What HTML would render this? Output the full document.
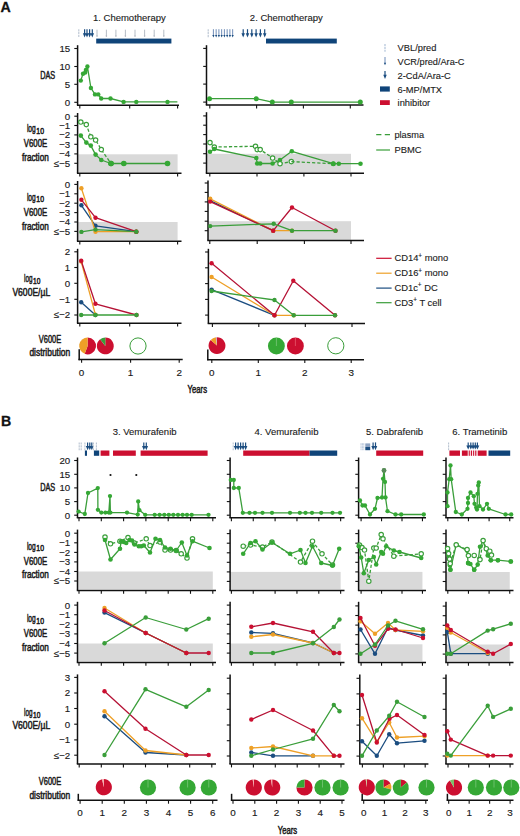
<!DOCTYPE html>
<html><head><meta charset="utf-8"><title>Figure</title>
<style>
html,body{margin:0;padding:0;background:#fff;}
body{width:520px;height:836px;overflow:hidden;font-family:"Liberation Sans",sans-serif;}
svg{display:block;}
</style></head><body>
<svg width="520" height="836" viewBox="0 0 520 836" font-family="Liberation Sans, sans-serif">
<rect width="520" height="836" fill="#fff"/>
<text x="0.4" y="12.3" font-size="14.2" font-weight="bold" fill="#111" stroke="#111" stroke-width="0.3">A</text>
<text x="129.4" y="21.4" font-size="9.5" text-anchor="middle" fill="#1a1a1a" stroke="#1a1a1a" stroke-width="0.12">1. Chemotherapy</text>
<text x="286.3" y="21.4" font-size="9.5" text-anchor="middle" fill="#1a1a1a" stroke="#1a1a1a" stroke-width="0.12">2. Chemotherapy</text>
<line x1="78.8" y1="29.2" x2="78.8" y2="36.9" stroke="#b9c4d2" stroke-width="1.1" stroke-dasharray="2.2,0.7"/>
<line x1="84.6" y1="29.2" x2="84.6" y2="35.4" stroke="#1b4d80" stroke-width="1.2" />
<path d="M82.85,33.2 L86.35,33.2 L84.6,37.4 Z" fill="#1b4d80"/>
<line x1="87" y1="29.2" x2="87" y2="35.4" stroke="#1b4d80" stroke-width="1.2" />
<path d="M85.25,33.2 L88.75,33.2 L87,37.4 Z" fill="#1b4d80"/>
<line x1="89.6" y1="29.2" x2="89.6" y2="35.4" stroke="#1b4d80" stroke-width="1.2" />
<path d="M87.85,33.2 L91.35,33.2 L89.6,37.4 Z" fill="#1b4d80"/>
<line x1="92.3" y1="29.2" x2="92.3" y2="35.4" stroke="#1b4d80" stroke-width="1.2" />
<path d="M90.55,33.2 L94.05,33.2 L92.3,37.4 Z" fill="#1b4d80"/>
<line x1="97" y1="29.7" x2="97" y2="36.9" stroke="#aeb6c0" stroke-width="0.9" />
<line x1="96.3" y1="35.8" x2="97.7" y2="35.8" stroke="#aeb6c0" stroke-width="0.8" />
<line x1="106.4" y1="29.7" x2="106.4" y2="36.9" stroke="#aeb6c0" stroke-width="0.9" />
<line x1="105.7" y1="35.8" x2="107.1" y2="35.8" stroke="#aeb6c0" stroke-width="0.8" />
<line x1="115.9" y1="29.7" x2="115.9" y2="36.9" stroke="#aeb6c0" stroke-width="0.9" />
<line x1="115.2" y1="35.8" x2="116.6" y2="35.8" stroke="#aeb6c0" stroke-width="0.8" />
<line x1="125.4" y1="29.7" x2="125.4" y2="36.9" stroke="#aeb6c0" stroke-width="0.9" />
<line x1="124.7" y1="35.8" x2="126.1" y2="35.8" stroke="#aeb6c0" stroke-width="0.8" />
<line x1="135" y1="29.7" x2="135" y2="36.9" stroke="#aeb6c0" stroke-width="0.9" />
<line x1="134.3" y1="35.8" x2="135.7" y2="35.8" stroke="#aeb6c0" stroke-width="0.8" />
<line x1="144.6" y1="29.7" x2="144.6" y2="36.9" stroke="#aeb6c0" stroke-width="0.9" />
<line x1="143.9" y1="35.8" x2="145.3" y2="35.8" stroke="#aeb6c0" stroke-width="0.8" />
<line x1="154.2" y1="29.7" x2="154.2" y2="36.9" stroke="#aeb6c0" stroke-width="0.9" />
<line x1="153.5" y1="35.8" x2="154.9" y2="35.8" stroke="#aeb6c0" stroke-width="0.8" />
<line x1="163.8" y1="29.7" x2="163.8" y2="36.9" stroke="#aeb6c0" stroke-width="0.9" />
<line x1="163.1" y1="35.8" x2="164.5" y2="35.8" stroke="#aeb6c0" stroke-width="0.8" />
<rect x="96.2" y="38.6" width="75.2" height="4.9" fill="#0f4479"/>
<line x1="208.2" y1="29.2" x2="208.2" y2="37.4" stroke="#b9c4d2" stroke-width="1.1" stroke-dasharray="2.2,0.7"/>
<line x1="213.4" y1="29.2" x2="213.4" y2="35.9" stroke="#5f80b0" stroke-width="0.9" />
<path d="M212.3,35 L214.5,35 L213.4,37.4 Z" fill="#1b4d80"/>
<line x1="216.15" y1="29.2" x2="216.15" y2="35.9" stroke="#5f80b0" stroke-width="0.9" />
<path d="M215.05,35 L217.25,35 L216.15,37.4 Z" fill="#1b4d80"/>
<line x1="218.9" y1="29.2" x2="218.9" y2="35.9" stroke="#5f80b0" stroke-width="0.9" />
<path d="M217.8,35 L220,35 L218.9,37.4 Z" fill="#1b4d80"/>
<line x1="221.65" y1="29.2" x2="221.65" y2="35.9" stroke="#5f80b0" stroke-width="0.9" />
<path d="M220.55,35 L222.75,35 L221.65,37.4 Z" fill="#1b4d80"/>
<line x1="224.4" y1="29.2" x2="224.4" y2="35.9" stroke="#5f80b0" stroke-width="0.9" />
<path d="M223.3,35 L225.5,35 L224.4,37.4 Z" fill="#1b4d80"/>
<line x1="227.15" y1="29.2" x2="227.15" y2="35.9" stroke="#5f80b0" stroke-width="0.9" />
<path d="M226.05,35 L228.25,35 L227.15,37.4 Z" fill="#1b4d80"/>
<line x1="229.9" y1="29.2" x2="229.9" y2="35.9" stroke="#5f80b0" stroke-width="0.9" />
<path d="M228.8,35 L231,35 L229.9,37.4 Z" fill="#1b4d80"/>
<line x1="232.65" y1="29.2" x2="232.65" y2="35.9" stroke="#5f80b0" stroke-width="0.9" />
<path d="M231.55,35 L233.75,35 L232.65,37.4 Z" fill="#1b4d80"/>
<line x1="243.2" y1="29.2" x2="243.2" y2="35.4" stroke="#1b4d80" stroke-width="1.2" />
<path d="M241.45,33.2 L244.95,33.2 L243.2,37.4 Z" fill="#1b4d80"/>
<line x1="247.5" y1="29.2" x2="247.5" y2="35.4" stroke="#1b4d80" stroke-width="1.2" />
<path d="M245.75,33.2 L249.25,33.2 L247.5,37.4 Z" fill="#1b4d80"/>
<line x1="251.8" y1="29.2" x2="251.8" y2="35.4" stroke="#1b4d80" stroke-width="1.2" />
<path d="M250.05,33.2 L253.55,33.2 L251.8,37.4 Z" fill="#1b4d80"/>
<line x1="256.1" y1="29.2" x2="256.1" y2="35.4" stroke="#1b4d80" stroke-width="1.2" />
<path d="M254.35,33.2 L257.85,33.2 L256.1,37.4 Z" fill="#1b4d80"/>
<line x1="260.4" y1="29.2" x2="260.4" y2="35.4" stroke="#1b4d80" stroke-width="1.2" />
<path d="M258.65,33.2 L262.15,33.2 L260.4,37.4 Z" fill="#1b4d80"/>
<line x1="264.7" y1="29.2" x2="264.7" y2="35.4" stroke="#1b4d80" stroke-width="1.2" />
<path d="M262.95,33.2 L266.45,33.2 L264.7,37.4 Z" fill="#1b4d80"/>
<rect x="266" y="38.6" width="70.8" height="4.9" fill="#0f4479"/>
<text x="40.2" y="78.8" font-size="10.6" textLength="15" lengthAdjust="spacingAndGlyphs" fill="#1a1a1a" stroke="#1a1a1a" stroke-width="0.5">DAS</text>
<text x="26.9" y="132" font-size="10.6" textLength="8.89" lengthAdjust="spacingAndGlyphs" fill="#1a1a1a" stroke="#1a1a1a" stroke-width="0.5">log</text>
<text x="36.29" y="133.6" font-size="8.48" textLength="7.71" lengthAdjust="spacingAndGlyphs" fill="#1a1a1a" stroke="#1a1a1a" stroke-width="0.5">10</text>
<text x="23.8" y="146.9" font-size="10.6" textLength="23.5" lengthAdjust="spacingAndGlyphs" fill="#1a1a1a" stroke="#1a1a1a" stroke-width="0.5">V600E</text>
<text x="21.9" y="160.9" font-size="10.6" textLength="26.9" lengthAdjust="spacingAndGlyphs" fill="#1a1a1a" stroke="#1a1a1a" stroke-width="0.5">fraction</text>
<text x="26.9" y="200.6" font-size="10.6" textLength="8.89" lengthAdjust="spacingAndGlyphs" fill="#1a1a1a" stroke="#1a1a1a" stroke-width="0.5">log</text>
<text x="36.29" y="202.2" font-size="8.48" textLength="7.71" lengthAdjust="spacingAndGlyphs" fill="#1a1a1a" stroke="#1a1a1a" stroke-width="0.5">10</text>
<text x="23.8" y="215.5" font-size="10.6" textLength="23.5" lengthAdjust="spacingAndGlyphs" fill="#1a1a1a" stroke="#1a1a1a" stroke-width="0.5">V600E</text>
<text x="21.9" y="229.5" font-size="10.6" textLength="26.9" lengthAdjust="spacingAndGlyphs" fill="#1a1a1a" stroke="#1a1a1a" stroke-width="0.5">fraction</text>
<text x="24" y="282.2" font-size="10.6" textLength="8.53" lengthAdjust="spacingAndGlyphs" fill="#1a1a1a" stroke="#1a1a1a" stroke-width="0.5">log</text>
<text x="33.03" y="283.8" font-size="8.48" textLength="7.37" lengthAdjust="spacingAndGlyphs" fill="#1a1a1a" stroke="#1a1a1a" stroke-width="0.5">10</text>
<text x="12.4" y="296.4" font-size="10.6" textLength="37.8" lengthAdjust="spacingAndGlyphs" fill="#1a1a1a" stroke="#1a1a1a" stroke-width="0.5">V600E/µL</text>
<text x="38.8" y="342.7" font-size="10.6" textLength="22.4" lengthAdjust="spacingAndGlyphs" fill="#1a1a1a" stroke="#1a1a1a" stroke-width="0.5">V600E</text>
<text x="29.4" y="356.2" font-size="10.6" textLength="40.8" lengthAdjust="spacingAndGlyphs" fill="#1a1a1a" stroke="#1a1a1a" stroke-width="0.5">distribution</text>
<line x1="77.6" y1="45.2" x2="77.6" y2="105.2" stroke="#111" stroke-width="1.5" />
<line x1="74.3" y1="48.5" x2="77.6" y2="48.5" stroke="#111" stroke-width="1.1" />
<text x="70.2" y="51.9" font-size="9.7" text-anchor="end" fill="#1a1a1a" stroke="#1a1a1a" stroke-width="0.15">15</text>
<line x1="74.3" y1="66.5" x2="77.6" y2="66.5" stroke="#111" stroke-width="1.1" />
<text x="70.2" y="69.9" font-size="9.7" text-anchor="end" fill="#1a1a1a" stroke="#1a1a1a" stroke-width="0.15">10</text>
<line x1="74.3" y1="84.3" x2="77.6" y2="84.3" stroke="#111" stroke-width="1.1" />
<text x="70.2" y="87.7" font-size="9.7" text-anchor="end" fill="#1a1a1a" stroke="#1a1a1a" stroke-width="0.15">5</text>
<line x1="74.3" y1="102.3" x2="77.6" y2="102.3" stroke="#111" stroke-width="1.1" />
<text x="70.2" y="105.7" font-size="9.7" text-anchor="end" fill="#1a1a1a" stroke="#1a1a1a" stroke-width="0.15">0</text>
<line x1="76.9" y1="105.2" x2="179" y2="105.2" stroke="#111" stroke-width="1.5" />
<line x1="79.8" y1="105.2" x2="79.8" y2="108.6" stroke="#111" stroke-width="1.1" />
<line x1="129.7" y1="105.2" x2="129.7" y2="108.6" stroke="#111" stroke-width="1.1" />
<line x1="177.6" y1="105.2" x2="177.6" y2="108.6" stroke="#111" stroke-width="1.1" />
<line x1="206.5" y1="45.2" x2="206.5" y2="105.1" stroke="#111" stroke-width="1.5" />
<line x1="203.2" y1="48.4" x2="206.5" y2="48.4" stroke="#111" stroke-width="1.1" />
<line x1="203.2" y1="66.4" x2="206.5" y2="66.4" stroke="#111" stroke-width="1.1" />
<line x1="203.2" y1="84.1" x2="206.5" y2="84.1" stroke="#111" stroke-width="1.1" />
<line x1="203.2" y1="102.1" x2="206.5" y2="102.1" stroke="#111" stroke-width="1.1" />
<line x1="205.8" y1="105.1" x2="363.5" y2="105.1" stroke="#111" stroke-width="1.5" />
<line x1="209.8" y1="105.1" x2="209.8" y2="108.5" stroke="#111" stroke-width="1.1" />
<line x1="256.6" y1="105.1" x2="256.6" y2="108.5" stroke="#111" stroke-width="1.1" />
<line x1="303.4" y1="105.1" x2="303.4" y2="108.5" stroke="#111" stroke-width="1.1" />
<line x1="350.3" y1="105.1" x2="350.3" y2="108.5" stroke="#111" stroke-width="1.1" />
<polyline points="80.8,80.6 83,73.8 85.2,72.6 85.9,70 87.4,66.5 90.9,88 95,94.4 98.3,94.4 101.2,98.5 110.5,98.5 123.6,101.9 136.3,101.9 167.5,101.9 177.4,101.9" fill="none" stroke="#3a9e3a" stroke-width="1.3" stroke-linejoin="round"/>
<circle cx="80.8" cy="80.6" r="2.2" fill="#35a835"/>
<circle cx="83" cy="73.8" r="2.2" fill="#35a835"/>
<circle cx="85.2" cy="72.6" r="2.2" fill="#35a835"/>
<circle cx="85.9" cy="70" r="2.2" fill="#35a835"/>
<circle cx="87.4" cy="66.5" r="2.2" fill="#35a835"/>
<circle cx="90.9" cy="88" r="2.2" fill="#35a835"/>
<circle cx="95" cy="94.4" r="2.2" fill="#35a835"/>
<circle cx="98.3" cy="94.4" r="2.2" fill="#35a835"/>
<circle cx="101.2" cy="98.5" r="2.2" fill="#35a835"/>
<circle cx="110.5" cy="98.5" r="2.2" fill="#35a835"/>
<circle cx="123.6" cy="101.9" r="2.2" fill="#35a835"/>
<circle cx="136.3" cy="101.9" r="2.2" fill="#35a835"/>
<circle cx="167.5" cy="101.9" r="2.2" fill="#35a835"/>
<polyline points="209.5,98.7 256.2,98.7 272.3,102.1 291.3,102.1 360.3,102.1" fill="none" stroke="#3a9e3a" stroke-width="1.3" stroke-linejoin="round"/>
<circle cx="209.5" cy="98.7" r="2.5" fill="#35a835"/>
<circle cx="256.2" cy="98.7" r="2.5" fill="#35a835"/>
<circle cx="272.3" cy="102.1" r="2.5" fill="#35a835"/>
<circle cx="291.3" cy="102.1" r="2.5" fill="#35a835"/>
<circle cx="360.3" cy="102.1" r="2.5" fill="#35a835"/>
<rect x="77.6" y="154.3" width="100" height="17.9" fill="#d9d9d9"/>
<rect x="206.5" y="153.8" width="144.5" height="18.4" fill="#d9d9d9"/>
<line x1="77.6" y1="113" x2="77.6" y2="173.2" stroke="#111" stroke-width="1.5" />
<line x1="74.3" y1="116.2" x2="77.6" y2="116.2" stroke="#111" stroke-width="1.1" />
<text x="70.2" y="119.6" font-size="9.7" text-anchor="end" fill="#1a1a1a" stroke="#1a1a1a" stroke-width="0.15">0</text>
<line x1="74.3" y1="125.5" x2="77.6" y2="125.5" stroke="#111" stroke-width="1.1" />
<text x="70.2" y="128.9" font-size="9.7" text-anchor="end" fill="#1a1a1a" stroke="#1a1a1a" stroke-width="0.15">−1</text>
<line x1="74.3" y1="134.9" x2="77.6" y2="134.9" stroke="#111" stroke-width="1.1" />
<text x="70.2" y="138.3" font-size="9.7" text-anchor="end" fill="#1a1a1a" stroke="#1a1a1a" stroke-width="0.15">−2</text>
<line x1="74.3" y1="144.3" x2="77.6" y2="144.3" stroke="#111" stroke-width="1.1" />
<text x="70.2" y="147.7" font-size="9.7" text-anchor="end" fill="#1a1a1a" stroke="#1a1a1a" stroke-width="0.15">−3</text>
<line x1="74.3" y1="153.9" x2="77.6" y2="153.9" stroke="#111" stroke-width="1.1" />
<text x="70.2" y="157.3" font-size="9.7" text-anchor="end" fill="#1a1a1a" stroke="#1a1a1a" stroke-width="0.15">−4</text>
<line x1="74.3" y1="163.3" x2="77.6" y2="163.3" stroke="#111" stroke-width="1.1" />
<text x="70.2" y="166.7" font-size="9.7" text-anchor="end" fill="#1a1a1a" stroke="#1a1a1a" stroke-width="0.15">≤−5</text>
<line x1="76.9" y1="173.2" x2="181.5" y2="173.2" stroke="#111" stroke-width="1.5" />
<line x1="79.8" y1="173.2" x2="79.8" y2="176.6" stroke="#111" stroke-width="1.1" />
<line x1="129.7" y1="173.2" x2="129.7" y2="176.6" stroke="#111" stroke-width="1.1" />
<line x1="177.6" y1="173.2" x2="177.6" y2="176.6" stroke="#111" stroke-width="1.1" />
<line x1="206.5" y1="112.2" x2="206.5" y2="173.2" stroke="#111" stroke-width="1.5" />
<line x1="203.2" y1="115.9" x2="206.5" y2="115.9" stroke="#111" stroke-width="1.1" />
<line x1="203.2" y1="125.2" x2="206.5" y2="125.2" stroke="#111" stroke-width="1.1" />
<line x1="203.2" y1="134.6" x2="206.5" y2="134.6" stroke="#111" stroke-width="1.1" />
<line x1="203.2" y1="144" x2="206.5" y2="144" stroke="#111" stroke-width="1.1" />
<line x1="203.2" y1="153.7" x2="206.5" y2="153.7" stroke="#111" stroke-width="1.1" />
<line x1="203.2" y1="163.1" x2="206.5" y2="163.1" stroke="#111" stroke-width="1.1" />
<line x1="205.8" y1="173.2" x2="364" y2="173.2" stroke="#111" stroke-width="1.5" />
<line x1="209.8" y1="173.2" x2="209.8" y2="176.6" stroke="#111" stroke-width="1.1" />
<line x1="257" y1="173.2" x2="257" y2="176.6" stroke="#111" stroke-width="1.1" />
<line x1="303.9" y1="173.2" x2="303.9" y2="176.6" stroke="#111" stroke-width="1.1" />
<line x1="351" y1="173.2" x2="351" y2="176.6" stroke="#111" stroke-width="1.1" />
<polyline points="80.8,122 86.3,124.6 90.8,136.8 95.6,140 101.3,149.6 111,163.5" fill="none" stroke="#3a9e3a" stroke-width="1.3" stroke-linejoin="round" stroke-dasharray="3.2,2"/>
<circle cx="80.8" cy="122" r="2.2" fill="#fff" stroke="#3a9e3a" stroke-width="1.15"/>
<circle cx="86.3" cy="124.6" r="2.2" fill="#fff" stroke="#3a9e3a" stroke-width="1.15"/>
<circle cx="90.8" cy="136.8" r="2.2" fill="#fff" stroke="#3a9e3a" stroke-width="1.15"/>
<circle cx="95.6" cy="140" r="2.2" fill="#fff" stroke="#3a9e3a" stroke-width="1.15"/>
<circle cx="101.3" cy="149.6" r="2.2" fill="#fff" stroke="#3a9e3a" stroke-width="1.15"/>
<circle cx="111" cy="163.5" r="2.2" fill="#fff" stroke="#3a9e3a" stroke-width="1.15"/>
<polyline points="80.8,135.6 86.3,142.6 90.8,145.6 95.6,154.6 101.3,160 111,163.5 123.8,163.5 167.5,163.5" fill="none" stroke="#3a9e3a" stroke-width="1.3" stroke-linejoin="round"/>
<circle cx="80.8" cy="135.6" r="2.3" fill="#35a835"/>
<circle cx="86.3" cy="142.6" r="2.3" fill="#35a835"/>
<circle cx="90.8" cy="145.6" r="2.3" fill="#35a835"/>
<circle cx="95.6" cy="154.6" r="2.3" fill="#35a835"/>
<circle cx="101.3" cy="160" r="2.3" fill="#35a835"/>
<circle cx="111" cy="163.5" r="2.3" fill="#35a835"/>
<circle cx="123.8" cy="163.5" r="2.3" fill="#35a835"/>
<circle cx="167.5" cy="163.5" r="2.3" fill="#35a835"/>
<circle cx="111" cy="163.5" r="2.8" fill="#35a835"/>
<circle cx="123.8" cy="163.5" r="2.8" fill="#35a835"/>
<circle cx="167.5" cy="163.5" r="2.8" fill="#35a835"/>
<polyline points="210,142.6 214.3,147 255.5,146.3 257.2,149.6 260.2,149.6 272.6,158 280,163.7 291.3,161.6" fill="none" stroke="#3a9e3a" stroke-width="1.3" stroke-linejoin="round" stroke-dasharray="3.2,2"/>
<circle cx="210" cy="142.6" r="2.2" fill="#fff" stroke="#3a9e3a" stroke-width="1.15"/>
<circle cx="214.3" cy="147" r="2.2" fill="#fff" stroke="#3a9e3a" stroke-width="1.15"/>
<circle cx="255.5" cy="146.3" r="2.2" fill="#fff" stroke="#3a9e3a" stroke-width="1.15"/>
<circle cx="257.2" cy="149.6" r="2.2" fill="#fff" stroke="#3a9e3a" stroke-width="1.15"/>
<circle cx="260.2" cy="149.6" r="2.2" fill="#fff" stroke="#3a9e3a" stroke-width="1.15"/>
<circle cx="272.6" cy="158" r="2.2" fill="#fff" stroke="#3a9e3a" stroke-width="1.15"/>
<circle cx="280" cy="163.7" r="2.2" fill="#fff" stroke="#3a9e3a" stroke-width="1.15"/>
<circle cx="291.3" cy="161.6" r="2.2" fill="#fff" stroke="#3a9e3a" stroke-width="1.15"/>
<polyline points="210,151.8 214.3,149 256.3,158 257.2,163.5 260.2,163.5 272.6,163.5 280,160 291.8,151.3 333.3,163.7 338.8,163.7 360.5,163.7" fill="none" stroke="#3a9e3a" stroke-width="1.3" stroke-linejoin="round"/>
<circle cx="210" cy="151.8" r="2.3" fill="#35a835"/>
<circle cx="214.3" cy="149" r="2.3" fill="#35a835"/>
<circle cx="256.3" cy="158" r="2.3" fill="#35a835"/>
<circle cx="257.2" cy="163.5" r="2.3" fill="#35a835"/>
<circle cx="260.2" cy="163.5" r="2.3" fill="#35a835"/>
<circle cx="272.6" cy="163.5" r="2.3" fill="#35a835"/>
<circle cx="280" cy="160" r="2.3" fill="#35a835"/>
<circle cx="291.8" cy="151.3" r="2.3" fill="#35a835"/>
<circle cx="333.3" cy="163.7" r="2.3" fill="#35a835"/>
<circle cx="338.8" cy="163.7" r="2.3" fill="#35a835"/>
<circle cx="360.5" cy="163.7" r="2.3" fill="#35a835"/>
<polyline points="291.3,161.6 333.3,163.7" fill="none" stroke="#3a9e3a" stroke-width="1.3" stroke-linejoin="round" stroke-dasharray="3.2,2"/>
<circle cx="333.3" cy="163.7" r="2.5" fill="#35a835"/>
<rect x="77.6" y="222" width="100" height="18.3" fill="#d9d9d9"/>
<rect x="208" y="221.2" width="143" height="18.6" fill="#d9d9d9"/>
<line x1="77.6" y1="181" x2="77.6" y2="241.2" stroke="#111" stroke-width="1.5" />
<line x1="74.3" y1="184.4" x2="77.6" y2="184.4" stroke="#111" stroke-width="1.1" />
<text x="70.2" y="187.8" font-size="9.7" text-anchor="end" fill="#1a1a1a" stroke="#1a1a1a" stroke-width="0.15">0</text>
<line x1="74.3" y1="193.8" x2="77.6" y2="193.8" stroke="#111" stroke-width="1.1" />
<text x="70.2" y="197.2" font-size="9.7" text-anchor="end" fill="#1a1a1a" stroke="#1a1a1a" stroke-width="0.15">−1</text>
<line x1="74.3" y1="203.2" x2="77.6" y2="203.2" stroke="#111" stroke-width="1.1" />
<text x="70.2" y="206.6" font-size="9.7" text-anchor="end" fill="#1a1a1a" stroke="#1a1a1a" stroke-width="0.15">−2</text>
<line x1="74.3" y1="212.6" x2="77.6" y2="212.6" stroke="#111" stroke-width="1.1" />
<text x="70.2" y="216" font-size="9.7" text-anchor="end" fill="#1a1a1a" stroke="#1a1a1a" stroke-width="0.15">−3</text>
<line x1="74.3" y1="222" x2="77.6" y2="222" stroke="#111" stroke-width="1.1" />
<text x="70.2" y="225.4" font-size="9.7" text-anchor="end" fill="#1a1a1a" stroke="#1a1a1a" stroke-width="0.15">−4</text>
<line x1="74.3" y1="231.4" x2="77.6" y2="231.4" stroke="#111" stroke-width="1.1" />
<text x="70.2" y="234.8" font-size="9.7" text-anchor="end" fill="#1a1a1a" stroke="#1a1a1a" stroke-width="0.15">≤−5</text>
<line x1="76.9" y1="241.2" x2="181.5" y2="241.2" stroke="#111" stroke-width="1.5" />
<line x1="79.8" y1="241.2" x2="79.8" y2="244.6" stroke="#111" stroke-width="1.1" />
<line x1="129.7" y1="241.2" x2="129.7" y2="244.6" stroke="#111" stroke-width="1.1" />
<line x1="177.6" y1="241.2" x2="177.6" y2="244.6" stroke="#111" stroke-width="1.1" />
<line x1="208" y1="180.5" x2="208" y2="240.6" stroke="#111" stroke-width="1.5" />
<line x1="204.7" y1="183" x2="208" y2="183" stroke="#111" stroke-width="1.1" />
<line x1="204.7" y1="192.4" x2="208" y2="192.4" stroke="#111" stroke-width="1.1" />
<line x1="204.7" y1="201.9" x2="208" y2="201.9" stroke="#111" stroke-width="1.1" />
<line x1="204.7" y1="211.4" x2="208" y2="211.4" stroke="#111" stroke-width="1.1" />
<line x1="204.7" y1="221.2" x2="208" y2="221.2" stroke="#111" stroke-width="1.1" />
<line x1="204.7" y1="230.7" x2="208" y2="230.7" stroke="#111" stroke-width="1.1" />
<line x1="207.3" y1="240.6" x2="364" y2="240.6" stroke="#111" stroke-width="1.5" />
<line x1="209.8" y1="240.6" x2="209.8" y2="244" stroke="#111" stroke-width="1.1" />
<line x1="257.2" y1="240.6" x2="257.2" y2="244" stroke="#111" stroke-width="1.1" />
<line x1="304.4" y1="240.6" x2="304.4" y2="244" stroke="#111" stroke-width="1.1" />
<line x1="351" y1="240.6" x2="351" y2="244" stroke="#111" stroke-width="1.1" />
<polyline points="81.4,205.3 95.5,225.8 136.3,231.7" fill="none" stroke="#1b4d80" stroke-width="1.3" stroke-linejoin="round"/>
<circle cx="81.4" cy="205.3" r="2.2" fill="#1b4d80"/>
<circle cx="95.5" cy="225.8" r="2.2" fill="#1b4d80"/>
<circle cx="136.3" cy="231.7" r="2.2" fill="#1b4d80"/>
<polyline points="81.4,188.3 95.5,231.7 136.3,231.7" fill="none" stroke="#eea027" stroke-width="1.3" stroke-linejoin="round"/>
<circle cx="81.4" cy="188.3" r="2.2" fill="#eea027"/>
<circle cx="95.5" cy="231.7" r="2.2" fill="#eea027"/>
<circle cx="136.3" cy="231.7" r="2.2" fill="#eea027"/>
<polyline points="81.4,199.8 95.5,217.7 136.3,231.7" fill="none" stroke="#b51235" stroke-width="1.3" stroke-linejoin="round"/>
<circle cx="81.4" cy="199.8" r="2.2" fill="#cc0f30"/>
<circle cx="95.5" cy="217.7" r="2.2" fill="#cc0f30"/>
<circle cx="136.3" cy="231.7" r="2.2" fill="#cc0f30"/>
<polyline points="81.4,231.9 95.5,229.6 136.3,231.7" fill="none" stroke="#3a9e3a" stroke-width="1.3" stroke-linejoin="round"/>
<circle cx="81.4" cy="231.9" r="2.2" fill="#3a9e3a"/>
<circle cx="95.5" cy="229.6" r="2.2" fill="#3a9e3a"/>
<circle cx="136.3" cy="231.7" r="2.2" fill="#3a9e3a"/>
<polyline points="210.2,200.6 273.2,230.7" fill="none" stroke="#1b4d80" stroke-width="1.3" stroke-linejoin="round"/>
<circle cx="210.2" cy="200.6" r="2.2" fill="#1b4d80"/>
<circle cx="273.2" cy="230.7" r="2.2" fill="#1b4d80"/>
<polyline points="210.2,198.8 273.2,230.7 292,230.7" fill="none" stroke="#eea027" stroke-width="1.3" stroke-linejoin="round"/>
<circle cx="210.2" cy="198.8" r="2.2" fill="#eea027"/>
<circle cx="273.2" cy="230.7" r="2.2" fill="#eea027"/>
<circle cx="292" cy="230.7" r="2.2" fill="#eea027"/>
<polyline points="210.2,201.6 273.2,230.7 292,207.5 335.5,230.7" fill="none" stroke="#b51235" stroke-width="1.3" stroke-linejoin="round"/>
<circle cx="210.2" cy="201.6" r="2.2" fill="#cc0f30"/>
<circle cx="273.2" cy="230.7" r="2.2" fill="#cc0f30"/>
<circle cx="292" cy="207.5" r="2.2" fill="#cc0f30"/>
<circle cx="335.5" cy="230.7" r="2.2" fill="#cc0f30"/>
<polyline points="210.2,226.1 273.7,223.8 292,230.7 335.5,230.7" fill="none" stroke="#3a9e3a" stroke-width="1.3" stroke-linejoin="round"/>
<circle cx="210.2" cy="226.1" r="2.2" fill="#3a9e3a"/>
<circle cx="273.7" cy="223.8" r="2.2" fill="#3a9e3a"/>
<circle cx="292" cy="230.7" r="2.2" fill="#3a9e3a"/>
<circle cx="335.5" cy="230.7" r="2.2" fill="#3a9e3a"/>
<line x1="77.6" y1="248.8" x2="77.6" y2="323.2" stroke="#111" stroke-width="1.5" />
<line x1="74.3" y1="251.8" x2="77.6" y2="251.8" stroke="#111" stroke-width="1.1" />
<text x="70.2" y="255.2" font-size="9.7" text-anchor="end" fill="#1a1a1a" stroke="#1a1a1a" stroke-width="0.15">2</text>
<line x1="74.3" y1="267.5" x2="77.6" y2="267.5" stroke="#111" stroke-width="1.1" />
<text x="70.2" y="270.9" font-size="9.7" text-anchor="end" fill="#1a1a1a" stroke="#1a1a1a" stroke-width="0.15">1</text>
<line x1="74.3" y1="283.3" x2="77.6" y2="283.3" stroke="#111" stroke-width="1.1" />
<text x="70.2" y="286.7" font-size="9.7" text-anchor="end" fill="#1a1a1a" stroke="#1a1a1a" stroke-width="0.15">0</text>
<line x1="74.3" y1="299.3" x2="77.6" y2="299.3" stroke="#111" stroke-width="1.1" />
<text x="70.2" y="302.7" font-size="9.7" text-anchor="end" fill="#1a1a1a" stroke="#1a1a1a" stroke-width="0.15">−1</text>
<line x1="74.3" y1="315" x2="77.6" y2="315" stroke="#111" stroke-width="1.1" />
<text x="70.2" y="318.4" font-size="9.7" text-anchor="end" fill="#1a1a1a" stroke="#1a1a1a" stroke-width="0.15">≤−2</text>
<line x1="76.9" y1="323.2" x2="181.5" y2="323.2" stroke="#111" stroke-width="1.5" />
<line x1="79.8" y1="323.2" x2="79.8" y2="326.6" stroke="#111" stroke-width="1.1" />
<line x1="129.7" y1="323.2" x2="129.7" y2="326.6" stroke="#111" stroke-width="1.1" />
<line x1="177.6" y1="323.2" x2="177.6" y2="326.6" stroke="#111" stroke-width="1.1" />
<line x1="208.4" y1="248.8" x2="208.4" y2="323.6" stroke="#111" stroke-width="1.5" />
<line x1="205.1" y1="252" x2="208.4" y2="252" stroke="#111" stroke-width="1.1" />
<line x1="205.1" y1="267.8" x2="208.4" y2="267.8" stroke="#111" stroke-width="1.1" />
<line x1="205.1" y1="283.6" x2="208.4" y2="283.6" stroke="#111" stroke-width="1.1" />
<line x1="205.1" y1="299.4" x2="208.4" y2="299.4" stroke="#111" stroke-width="1.1" />
<line x1="205.1" y1="315.1" x2="208.4" y2="315.1" stroke="#111" stroke-width="1.1" />
<line x1="207.7" y1="323.6" x2="365" y2="323.6" stroke="#111" stroke-width="1.5" />
<line x1="212.4" y1="323.6" x2="212.4" y2="327" stroke="#111" stroke-width="1.1" />
<line x1="258.8" y1="323.6" x2="258.8" y2="327" stroke="#111" stroke-width="1.1" />
<line x1="305.3" y1="323.6" x2="305.3" y2="327" stroke="#111" stroke-width="1.1" />
<line x1="352" y1="323.6" x2="352" y2="327" stroke="#111" stroke-width="1.1" />
<polyline points="81.2,302.2 95.4,315" fill="none" stroke="#1b4d80" stroke-width="1.3" stroke-linejoin="round"/>
<circle cx="81.2" cy="302.2" r="2.2" fill="#1b4d80"/>
<circle cx="95.4" cy="315" r="2.2" fill="#1b4d80"/>
<polyline points="81.2,261.6 95.4,314.6" fill="none" stroke="#eea027" stroke-width="1.3" stroke-linejoin="round"/>
<circle cx="81.2" cy="261.6" r="2.2" fill="#eea027"/>
<circle cx="95.4" cy="314.6" r="2.2" fill="#eea027"/>
<polyline points="81.2,260.8 95.4,303.8 136.5,315" fill="none" stroke="#b51235" stroke-width="1.3" stroke-linejoin="round"/>
<circle cx="81.2" cy="260.8" r="2.2" fill="#cc0f30"/>
<circle cx="95.4" cy="303.8" r="2.2" fill="#cc0f30"/>
<circle cx="136.5" cy="315" r="2.2" fill="#cc0f30"/>
<polyline points="81.2,315 95.4,315 136.5,315" fill="none" stroke="#3a9e3a" stroke-width="1.3" stroke-linejoin="round"/>
<circle cx="81.2" cy="315" r="2.2" fill="#3a9e3a"/>
<circle cx="95.4" cy="315" r="2.2" fill="#3a9e3a"/>
<circle cx="136.5" cy="315" r="2.2" fill="#3a9e3a"/>
<polyline points="211.6,289.6 274.5,315.3" fill="none" stroke="#1b4d80" stroke-width="1.3" stroke-linejoin="round"/>
<circle cx="211.6" cy="289.6" r="2.2" fill="#1b4d80"/>
<circle cx="274.5" cy="315.3" r="2.2" fill="#1b4d80"/>
<polyline points="211.6,277 274.5,315.3 293.7,315.3" fill="none" stroke="#eea027" stroke-width="1.3" stroke-linejoin="round"/>
<circle cx="211.6" cy="277" r="2.2" fill="#eea027"/>
<circle cx="274.5" cy="315.3" r="2.2" fill="#eea027"/>
<circle cx="293.7" cy="315.3" r="2.2" fill="#eea027"/>
<polyline points="211.6,263.3 274.5,315.3 293.3,280.8 335,315.3" fill="none" stroke="#b51235" stroke-width="1.3" stroke-linejoin="round"/>
<circle cx="211.6" cy="263.3" r="2.2" fill="#cc0f30"/>
<circle cx="274.5" cy="315.3" r="2.2" fill="#cc0f30"/>
<circle cx="293.3" cy="280.8" r="2.2" fill="#cc0f30"/>
<circle cx="335" cy="315.3" r="2.2" fill="#cc0f30"/>
<polyline points="211.6,291 274.5,300 293.7,315.3 335,315.3" fill="none" stroke="#3a9e3a" stroke-width="1.3" stroke-linejoin="round"/>
<circle cx="211.6" cy="291" r="2.2" fill="#3a9e3a"/>
<circle cx="274.5" cy="300" r="2.2" fill="#3a9e3a"/>
<circle cx="293.7" cy="315.3" r="2.2" fill="#3a9e3a"/>
<circle cx="335" cy="315.3" r="2.2" fill="#3a9e3a"/>
<line x1="79.2" y1="349.2" x2="79.2" y2="360.2" stroke="#111" stroke-width="1.5" />
<line x1="78.5" y1="359.6" x2="182.7" y2="359.6" stroke="#111" stroke-width="1.5" />
<line x1="81.6" y1="359.6" x2="81.6" y2="362.8" stroke="#111" stroke-width="1.1" />
<text x="81.6" y="376.4" font-size="9.9" text-anchor="middle" fill="#1a1a1a" stroke="#1a1a1a" stroke-width="0.15">0</text>
<line x1="130.6" y1="359.6" x2="130.6" y2="362.8" stroke="#111" stroke-width="1.1" />
<text x="130.6" y="376.4" font-size="9.9" text-anchor="middle" fill="#1a1a1a" stroke="#1a1a1a" stroke-width="0.15">1</text>
<line x1="179.2" y1="359.6" x2="179.2" y2="362.8" stroke="#111" stroke-width="1.1" />
<text x="179.2" y="376.4" font-size="9.9" text-anchor="middle" fill="#1a1a1a" stroke="#1a1a1a" stroke-width="0.15">2</text>
<line x1="207.8" y1="349.6" x2="207.8" y2="360.2" stroke="#111" stroke-width="1.5" />
<line x1="207.1" y1="359.7" x2="364" y2="359.7" stroke="#111" stroke-width="1.5" />
<line x1="211.8" y1="359.7" x2="211.8" y2="362.9" stroke="#111" stroke-width="1.1" />
<text x="211.8" y="376.4" font-size="9.9" text-anchor="middle" fill="#1a1a1a" stroke="#1a1a1a" stroke-width="0.15">0</text>
<line x1="258.3" y1="359.7" x2="258.3" y2="362.9" stroke="#111" stroke-width="1.1" />
<text x="258.3" y="376.4" font-size="9.9" text-anchor="middle" fill="#1a1a1a" stroke="#1a1a1a" stroke-width="0.15">1</text>
<line x1="304.8" y1="359.7" x2="304.8" y2="362.9" stroke="#111" stroke-width="1.1" />
<text x="304.8" y="376.4" font-size="9.9" text-anchor="middle" fill="#1a1a1a" stroke="#1a1a1a" stroke-width="0.15">2</text>
<line x1="351.2" y1="359.7" x2="351.2" y2="362.9" stroke="#111" stroke-width="1.1" />
<text x="351.2" y="376.4" font-size="9.9" text-anchor="middle" fill="#1a1a1a" stroke="#1a1a1a" stroke-width="0.15">3</text>
<path d="M87.6,345.9 L87.6,337.45 A8.45,8.45 0 1 1 84.71,353.84 Z" fill="#cc0f30"/>
<path d="M87.6,345.9 L84.71,353.84 A8.45,8.45 0 0 1 87.6,337.45 Z" fill="#eea027"/>
<path d="M105.3,345.9 L105.3,337.45 A8.45,8.45 0 1 1 100.1,339.24 Z" fill="#cc0f30"/>
<path d="M105.3,345.9 L100.1,339.24 A8.45,8.45 0 0 1 105.3,337.45 Z" fill="#3a9e3a"/>
<circle cx="138" cy="346" r="8.1" fill="#fff" stroke="#3a9e3a" stroke-width="1.0"/>
<path d="M217,345.6 L217,337.15 A8.45,8.45 0 1 1 210.72,339.95 Z" fill="#cc0f30"/>
<path d="M217,345.6 L210.72,339.95 A8.45,8.45 0 0 1 215.82,337.23 Z" fill="#eea027"/>
<path d="M217,345.6 L215.82,337.23 A8.45,8.45 0 0 1 217,337.15 Z" fill="#c9a0c0"/>
<circle cx="276.4" cy="346" r="8.45" fill="#35a835"/>
<line x1="276.4" y1="346" x2="276.4" y2="337.6" stroke="#8fd08f" stroke-width="0.6" />
<circle cx="295.4" cy="346" r="8.45" fill="#cc0f30"/>
<line x1="295.4" y1="346" x2="295.4" y2="337.6" stroke="#f07080" stroke-width="0.6" />
<circle cx="335.8" cy="345.8" r="8.1" fill="#fff" stroke="#3a9e3a" stroke-width="1.0"/>
<text x="187.6" y="392.6" font-size="10.6" textLength="19.4" lengthAdjust="spacingAndGlyphs" fill="#1a1a1a" stroke="#1a1a1a" stroke-width="0.5">Years</text>
<line x1="385" y1="44" x2="385" y2="51.8" stroke="#a9bdd6" stroke-width="1.1" stroke-dasharray="2.2,0.7"/>
<text x="397.6" y="51.4" font-size="9.3" text-anchor="start" fill="#1a1a1a" stroke="#1a1a1a" stroke-width="0.12">VBL/pred</text>
<line x1="385" y1="57" x2="385" y2="63.7" stroke="#5f80b0" stroke-width="0.9" />
<path d="M383.9,62.8 L386.1,62.8 L385,65.2 Z" fill="#1b4d80"/>
<text x="397.6" y="65.3" font-size="9.2" text-anchor="start" fill="#1a1a1a" stroke="#1a1a1a" stroke-width="0.12">VCR/pred/Ara-C</text>
<line x1="385" y1="70.9" x2="385" y2="77" stroke="#1b4d80" stroke-width="1.2" />
<path d="M383.25,74.8 L386.75,74.8 L385,79 Z" fill="#1b4d80"/>
<text x="397.6" y="79.1" font-size="9.3" text-anchor="start" fill="#1a1a1a" stroke="#1a1a1a" stroke-width="0.12">2-CdA/Ara-C</text>
<rect x="380" y="86.4" width="9.8" height="5.2" fill="#0f4479"/>
<text x="397.6" y="92.5" font-size="9.3" text-anchor="start" fill="#1a1a1a" stroke="#1a1a1a" stroke-width="0.12">6-MP/MTX</text>
<rect x="380" y="100.2" width="9.8" height="4.8" fill="#cc0f30"/>
<text x="397.6" y="106" font-size="9.3" text-anchor="start" fill="#1a1a1a" stroke="#1a1a1a" stroke-width="0.12">inhibitor</text>
<line x1="376.2" y1="134.6" x2="390" y2="134.6" stroke="#3a9e3a" stroke-width="1.2" stroke-dasharray="5.2,3.4"/>
<text x="394.4" y="137.9" font-size="9.2" text-anchor="start" fill="#1a1a1a" stroke="#1a1a1a" stroke-width="0.12">plasma</text>
<line x1="376.2" y1="150" x2="390" y2="150" stroke="#3a9e3a" stroke-width="1.2" />
<text x="394.4" y="153.4" font-size="9.4" text-anchor="start" fill="#1a1a1a" stroke="#1a1a1a" stroke-width="0.12">PBMC</text>
<line x1="376.2" y1="258.3" x2="391.6" y2="258.3" stroke="#cc0f30" stroke-width="1.2" />
<text x="394.4" y="261.2" font-size="9.4" text-anchor="start" fill="#1a1a1a" stroke="#1a1a1a" stroke-width="0.12">CD14<tspan dy='-3.6' font-size='6.5'>+</tspan><tspan dy='3.6'> mono</tspan></text>
<line x1="376.2" y1="273.2" x2="391.6" y2="273.2" stroke="#eea027" stroke-width="1.2" />
<text x="394.4" y="276.1" font-size="9.4" text-anchor="start" fill="#1a1a1a" stroke="#1a1a1a" stroke-width="0.12">CD16<tspan dy='-3.6' font-size='6.5'>+</tspan><tspan dy='3.6'> mono</tspan></text>
<line x1="376.2" y1="288.1" x2="391.6" y2="288.1" stroke="#1b4d80" stroke-width="1.2" />
<text x="394.4" y="291" font-size="9.4" text-anchor="start" fill="#1a1a1a" stroke="#1a1a1a" stroke-width="0.12">CD1c<tspan dy='-3.6' font-size='6.5'>+</tspan><tspan dy='3.6'> DC</tspan></text>
<line x1="376.2" y1="302.7" x2="391.6" y2="302.7" stroke="#3a9e3a" stroke-width="1.2" />
<text x="394.4" y="305.6" font-size="9.4" text-anchor="start" fill="#1a1a1a" stroke="#1a1a1a" stroke-width="0.12">CD3<tspan dy='-3.6' font-size='6.5'>+</tspan><tspan dy='3.6'> T cell</tspan></text>
<text x="1.0" y="425.7" font-size="14.2" font-weight="bold" fill="#111" stroke="#111" stroke-width="0.3">B</text>
<text x="144.6" y="434.8" font-size="9.5" text-anchor="middle" fill="#1a1a1a" stroke="#1a1a1a" stroke-width="0.12">3. Vemurafenib</text>
<text x="286.5" y="434.8" font-size="9.5" text-anchor="middle" fill="#1a1a1a" stroke="#1a1a1a" stroke-width="0.12">4. Vemurafenib</text>
<text x="394.6" y="434.8" font-size="9.5" text-anchor="middle" fill="#1a1a1a" stroke="#1a1a1a" stroke-width="0.12">5. Dabrafenib</text>
<text x="479.8" y="434.8" font-size="9.5" text-anchor="middle" fill="#1a1a1a" stroke="#1a1a1a" stroke-width="0.12">6. Trametinib</text>
<line x1="79.2" y1="442.4" x2="79.2" y2="450.2" stroke="#b9c4d2" stroke-width="1.1" stroke-dasharray="2.2,0.7"/>
<line x1="81.2" y1="442.4" x2="81.2" y2="450.2" stroke="#b9c4d2" stroke-width="1.1" stroke-dasharray="2.2,0.7"/>
<line x1="84.9" y1="442.4" x2="84.9" y2="450.2" stroke="#b9c4d2" stroke-width="1.1" stroke-dasharray="2.2,0.7"/>
<line x1="87.6" y1="442.4" x2="87.6" y2="448.2" stroke="#1b4d80" stroke-width="1.2" />
<path d="M85.85,446 L89.35,446 L87.6,450.2 Z" fill="#1b4d80"/>
<line x1="89.8" y1="442.4" x2="89.8" y2="448.2" stroke="#1b4d80" stroke-width="1.2" />
<path d="M88.05,446 L91.55,446 L89.8,450.2 Z" fill="#1b4d80"/>
<line x1="91.8" y1="442.4" x2="91.8" y2="448.2" stroke="#1b4d80" stroke-width="1.2" />
<path d="M90.05,446 L93.55,446 L91.8,450.2 Z" fill="#1b4d80"/>
<line x1="93.4" y1="442.4" x2="93.4" y2="450.2" stroke="#b9c4d2" stroke-width="1.1" stroke-dasharray="2.2,0.7"/>
<line x1="96.4" y1="442.4" x2="96.4" y2="450.2" stroke="#b9c4d2" stroke-width="1.1" stroke-dasharray="2.2,0.7"/>
<line x1="143.8" y1="442.4" x2="143.8" y2="448.2" stroke="#1b4d80" stroke-width="1.2" />
<path d="M142.05,446 L145.55,446 L143.8,450.2 Z" fill="#1b4d80"/>
<line x1="146.3" y1="442.4" x2="146.3" y2="448.2" stroke="#1b4d80" stroke-width="1.2" />
<path d="M144.55,446 L148.05,446 L146.3,450.2 Z" fill="#1b4d80"/>
<rect x="84.9" y="450.5" width="2.1" height="5.3" fill="#0f4479"/>
<rect x="93.9" y="450.5" width="5.3" height="5.3" fill="#0f4479"/>
<rect x="100.6" y="450.5" width="8.8" height="5.3" fill="#cc0f30"/>
<rect x="113" y="450.5" width="22.8" height="5.3" fill="#cc0f30"/>
<rect x="140.6" y="450.5" width="67" height="5.3" fill="#cc0f30"/>
<line x1="233.2" y1="442.4" x2="233.2" y2="450.2" stroke="#b9c4d2" stroke-width="1.1" stroke-dasharray="2.2,0.7"/>
<line x1="235.6" y1="442.4" x2="235.6" y2="448.2" stroke="#1b4d80" stroke-width="1.2" />
<path d="M233.85,446 L237.35,446 L235.6,450.2 Z" fill="#1b4d80"/>
<line x1="238.1" y1="442.4" x2="238.1" y2="448.2" stroke="#1b4d80" stroke-width="1.2" />
<path d="M236.35,446 L239.85,446 L238.1,450.2 Z" fill="#1b4d80"/>
<line x1="240.6" y1="442.4" x2="240.6" y2="448.2" stroke="#1b4d80" stroke-width="1.2" />
<path d="M238.85,446 L242.35,446 L240.6,450.2 Z" fill="#1b4d80"/>
<line x1="243.1" y1="442.4" x2="243.1" y2="448.2" stroke="#1b4d80" stroke-width="1.2" />
<path d="M241.35,446 L244.85,446 L243.1,450.2 Z" fill="#1b4d80"/>
<line x1="245.6" y1="442.4" x2="245.6" y2="448.2" stroke="#1b4d80" stroke-width="1.2" />
<path d="M243.85,446 L247.35,446 L245.6,450.2 Z" fill="#1b4d80"/>
<rect x="243.2" y="450.5" width="66.4" height="5.3" fill="#cc0f30"/>
<rect x="309.6" y="450.5" width="27.6" height="5.3" fill="#0f4479"/>
<line x1="361" y1="443.2" x2="361" y2="450.2" stroke="#a3b6d0" stroke-width="0.75" stroke-dasharray="2.4,0.6"/>
<line x1="362.4" y1="443.2" x2="362.4" y2="450.2" stroke="#a3b6d0" stroke-width="0.75" stroke-dasharray="2.4,0.6"/>
<line x1="363.8" y1="443.2" x2="363.8" y2="450.2" stroke="#a3b6d0" stroke-width="0.75" stroke-dasharray="2.4,0.6"/>
<rect x="365.3" y="443.4" width="4.9" height="3.6" fill="#8ea3c2"/>
<rect x="365.3" y="447" width="4.9" height="3.2" fill="#1b4d80"/>
<line x1="373.1" y1="442.4" x2="373.1" y2="448.2" stroke="#1b4d80" stroke-width="1.2" />
<path d="M371.35,446 L374.85,446 L373.1,450.2 Z" fill="#1b4d80"/>
<line x1="375.5" y1="442.4" x2="375.5" y2="448.2" stroke="#1b4d80" stroke-width="1.2" />
<path d="M373.75,446 L377.25,446 L375.5,450.2 Z" fill="#1b4d80"/>
<rect x="376.2" y="450.5" width="47" height="5.3" fill="#cc0f30"/>
<line x1="448.6" y1="442.4" x2="448.6" y2="450.2" stroke="#b9c4d2" stroke-width="1.1" stroke-dasharray="2.2,0.7"/>
<line x1="468.2" y1="442.4" x2="468.2" y2="447.6" stroke="#1b4d80" stroke-width="1.2" />
<path d="M466.3,445.4 L470.1,445.4 L468.2,449.6 Z" fill="#1b4d80"/>
<line x1="470.8" y1="442.4" x2="470.8" y2="447.6" stroke="#1b4d80" stroke-width="1.2" />
<path d="M468.9,445.4 L472.7,445.4 L470.8,449.6 Z" fill="#1b4d80"/>
<line x1="473.1" y1="442.4" x2="473.1" y2="447.6" stroke="#1b4d80" stroke-width="1.2" />
<path d="M471.2,445.4 L475,445.4 L473.1,449.6 Z" fill="#1b4d80"/>
<line x1="475.3" y1="442.4" x2="475.3" y2="447.6" stroke="#1b4d80" stroke-width="1.2" />
<path d="M473.4,445.4 L477.2,445.4 L475.3,449.6 Z" fill="#1b4d80"/>
<line x1="477.4" y1="442.4" x2="477.4" y2="447.6" stroke="#1b4d80" stroke-width="1.2" />
<path d="M475.5,445.4 L479.3,445.4 L477.4,449.6 Z" fill="#1b4d80"/>
<rect x="449.4" y="450.5" width="10.6" height="5.3" fill="#cc0f30"/>
<rect x="461.9" y="450.5" width="5.8" height="5.3" fill="#cc0f30"/>
<rect x="468.7" y="450.5" width="1.1" height="5.3" fill="#cc0f30"/>
<rect x="470.8" y="450.5" width="1.3" height="5.3" fill="#cc0f30"/>
<rect x="473.1" y="450.5" width="1.1" height="5.3" fill="#cc0f30"/>
<rect x="475.2" y="450.5" width="1.2" height="5.3" fill="#cc0f30"/>
<rect x="477.7" y="450.5" width="8.9" height="5.3" fill="#cc0f30"/>
<rect x="488.5" y="450.5" width="21.7" height="5.3" fill="#0f4479"/>
<text x="40.2" y="491.3" font-size="10.6" textLength="15" lengthAdjust="spacingAndGlyphs" fill="#1a1a1a" stroke="#1a1a1a" stroke-width="0.5">DAS</text>
<text x="26.9" y="549.8" font-size="10.6" textLength="8.89" lengthAdjust="spacingAndGlyphs" fill="#1a1a1a" stroke="#1a1a1a" stroke-width="0.5">log</text>
<text x="36.29" y="551.4" font-size="8.48" textLength="7.71" lengthAdjust="spacingAndGlyphs" fill="#1a1a1a" stroke="#1a1a1a" stroke-width="0.5">10</text>
<text x="23.8" y="564.5" font-size="10.6" textLength="23.5" lengthAdjust="spacingAndGlyphs" fill="#1a1a1a" stroke="#1a1a1a" stroke-width="0.5">V600E</text>
<text x="21.9" y="578.4" font-size="10.6" textLength="26.9" lengthAdjust="spacingAndGlyphs" fill="#1a1a1a" stroke="#1a1a1a" stroke-width="0.5">fraction</text>
<text x="26.9" y="622.1" font-size="10.6" textLength="8.89" lengthAdjust="spacingAndGlyphs" fill="#1a1a1a" stroke="#1a1a1a" stroke-width="0.5">log</text>
<text x="36.29" y="623.7" font-size="8.48" textLength="7.71" lengthAdjust="spacingAndGlyphs" fill="#1a1a1a" stroke="#1a1a1a" stroke-width="0.5">10</text>
<text x="23.8" y="636.9" font-size="10.6" textLength="23.5" lengthAdjust="spacingAndGlyphs" fill="#1a1a1a" stroke="#1a1a1a" stroke-width="0.5">V600E</text>
<text x="21.9" y="650.8" font-size="10.6" textLength="26.9" lengthAdjust="spacingAndGlyphs" fill="#1a1a1a" stroke="#1a1a1a" stroke-width="0.5">fraction</text>
<text x="24" y="716.2" font-size="10.6" textLength="8.53" lengthAdjust="spacingAndGlyphs" fill="#1a1a1a" stroke="#1a1a1a" stroke-width="0.5">log</text>
<text x="33.03" y="717.8" font-size="8.48" textLength="7.37" lengthAdjust="spacingAndGlyphs" fill="#1a1a1a" stroke="#1a1a1a" stroke-width="0.5">10</text>
<text x="12.4" y="728.9" font-size="10.6" textLength="37.8" lengthAdjust="spacingAndGlyphs" fill="#1a1a1a" stroke="#1a1a1a" stroke-width="0.5">V600E/µL</text>
<text x="38.8" y="784.5" font-size="10.6" textLength="22.4" lengthAdjust="spacingAndGlyphs" fill="#1a1a1a" stroke="#1a1a1a" stroke-width="0.5">V600E</text>
<text x="29.4" y="798.6" font-size="10.6" textLength="40.8" lengthAdjust="spacingAndGlyphs" fill="#1a1a1a" stroke="#1a1a1a" stroke-width="0.5">distribution</text>
<line x1="77.5" y1="457.5" x2="77.5" y2="517.8" stroke="#111" stroke-width="1.5" />
<line x1="74.2" y1="460.5" x2="77.5" y2="460.5" stroke="#111" stroke-width="1.1" />
<text x="70.2" y="463.9" font-size="9.7" text-anchor="end" fill="#1a1a1a" stroke="#1a1a1a" stroke-width="0.15">20</text>
<line x1="74.2" y1="474.3" x2="77.5" y2="474.3" stroke="#111" stroke-width="1.1" />
<text x="70.2" y="477.7" font-size="9.7" text-anchor="end" fill="#1a1a1a" stroke="#1a1a1a" stroke-width="0.15">15</text>
<line x1="74.2" y1="487.9" x2="77.5" y2="487.9" stroke="#111" stroke-width="1.1" />
<text x="70.2" y="491.3" font-size="9.7" text-anchor="end" fill="#1a1a1a" stroke="#1a1a1a" stroke-width="0.15">10</text>
<line x1="74.2" y1="501.6" x2="77.5" y2="501.6" stroke="#111" stroke-width="1.1" />
<text x="70.2" y="505" font-size="9.7" text-anchor="end" fill="#1a1a1a" stroke="#1a1a1a" stroke-width="0.15">5</text>
<line x1="74.2" y1="515.2" x2="77.5" y2="515.2" stroke="#111" stroke-width="1.1" />
<text x="70.2" y="518.6" font-size="9.7" text-anchor="end" fill="#1a1a1a" stroke="#1a1a1a" stroke-width="0.15">0</text>
<line x1="76.8" y1="517.8" x2="216" y2="517.8" stroke="#111" stroke-width="1.5" />
<line x1="79" y1="517.8" x2="79" y2="521.2" stroke="#111" stroke-width="1.1" />
<line x1="101.3" y1="517.8" x2="101.3" y2="521.2" stroke="#111" stroke-width="1.1" />
<line x1="123.6" y1="517.8" x2="123.6" y2="521.2" stroke="#111" stroke-width="1.1" />
<line x1="145.9" y1="517.8" x2="145.9" y2="521.2" stroke="#111" stroke-width="1.1" />
<line x1="168.2" y1="517.8" x2="168.2" y2="521.2" stroke="#111" stroke-width="1.1" />
<line x1="190.5" y1="517.8" x2="190.5" y2="521.2" stroke="#111" stroke-width="1.1" />
<line x1="212.8" y1="517.8" x2="212.8" y2="521.2" stroke="#111" stroke-width="1.1" />
<line x1="230.1" y1="457.5" x2="230.1" y2="517.8" stroke="#111" stroke-width="1.5" />
<line x1="226.8" y1="460.5" x2="230.1" y2="460.5" stroke="#111" stroke-width="1.1" />
<line x1="226.8" y1="474.3" x2="230.1" y2="474.3" stroke="#111" stroke-width="1.1" />
<line x1="226.8" y1="487.9" x2="230.1" y2="487.9" stroke="#111" stroke-width="1.1" />
<line x1="226.8" y1="501.6" x2="230.1" y2="501.6" stroke="#111" stroke-width="1.1" />
<line x1="226.8" y1="515.2" x2="230.1" y2="515.2" stroke="#111" stroke-width="1.1" />
<line x1="229.4" y1="517.8" x2="344.5" y2="517.8" stroke="#111" stroke-width="1.5" />
<line x1="231.4" y1="517.8" x2="231.4" y2="521.2" stroke="#111" stroke-width="1.1" />
<line x1="253.25" y1="517.8" x2="253.25" y2="521.2" stroke="#111" stroke-width="1.1" />
<line x1="275.1" y1="517.8" x2="275.1" y2="521.2" stroke="#111" stroke-width="1.1" />
<line x1="296.95" y1="517.8" x2="296.95" y2="521.2" stroke="#111" stroke-width="1.1" />
<line x1="318.8" y1="517.8" x2="318.8" y2="521.2" stroke="#111" stroke-width="1.1" />
<line x1="340.65" y1="517.8" x2="340.65" y2="521.2" stroke="#111" stroke-width="1.1" />
<line x1="358.6" y1="457.5" x2="358.6" y2="517.8" stroke="#111" stroke-width="1.5" />
<line x1="355.3" y1="460.5" x2="358.6" y2="460.5" stroke="#111" stroke-width="1.1" />
<line x1="355.3" y1="474.3" x2="358.6" y2="474.3" stroke="#111" stroke-width="1.1" />
<line x1="355.3" y1="487.9" x2="358.6" y2="487.9" stroke="#111" stroke-width="1.1" />
<line x1="355.3" y1="501.6" x2="358.6" y2="501.6" stroke="#111" stroke-width="1.1" />
<line x1="355.3" y1="515.2" x2="358.6" y2="515.2" stroke="#111" stroke-width="1.1" />
<line x1="357.9" y1="517.8" x2="426" y2="517.8" stroke="#111" stroke-width="1.5" />
<line x1="361.1" y1="517.8" x2="361.1" y2="521.2" stroke="#111" stroke-width="1.1" />
<line x1="381.55" y1="517.8" x2="381.55" y2="521.2" stroke="#111" stroke-width="1.1" />
<line x1="402" y1="517.8" x2="402" y2="521.2" stroke="#111" stroke-width="1.1" />
<line x1="422.45" y1="517.8" x2="422.45" y2="521.2" stroke="#111" stroke-width="1.1" />
<line x1="446" y1="457.5" x2="446" y2="517.8" stroke="#111" stroke-width="1.5" />
<line x1="442.7" y1="460.5" x2="446" y2="460.5" stroke="#111" stroke-width="1.1" />
<line x1="442.7" y1="474.3" x2="446" y2="474.3" stroke="#111" stroke-width="1.1" />
<line x1="442.7" y1="487.9" x2="446" y2="487.9" stroke="#111" stroke-width="1.1" />
<line x1="442.7" y1="501.6" x2="446" y2="501.6" stroke="#111" stroke-width="1.1" />
<line x1="442.7" y1="515.2" x2="446" y2="515.2" stroke="#111" stroke-width="1.1" />
<line x1="445.3" y1="517.8" x2="513.5" y2="517.8" stroke="#111" stroke-width="1.5" />
<line x1="447.8" y1="517.8" x2="447.8" y2="521.2" stroke="#111" stroke-width="1.1" />
<line x1="468.45" y1="517.8" x2="468.45" y2="521.2" stroke="#111" stroke-width="1.1" />
<line x1="489.1" y1="517.8" x2="489.1" y2="521.2" stroke="#111" stroke-width="1.1" />
<line x1="509.75" y1="517.8" x2="509.75" y2="521.2" stroke="#111" stroke-width="1.1" />
<circle cx="110.5" cy="475" r="1.1" fill="#111"/>
<circle cx="136.3" cy="475" r="1.1" fill="#111"/>
<polyline points="78.6,511.6 84.8,514 88,493 97.8,488.1 97.9,509.8 101.3,512.6 105.4,512.6 108.8,512.6 110,496.1 110.4,512.6 127,512.6 137.7,514.6 138.2,501.5 139.4,510.2 145.2,514.8 154.7,514.8 159.6,514.8 164.3,514.8 168.8,514.8 173.3,514.8 178,514.8 182.6,514.8 187,514.8 191.7,514.8 208.5,514.8" fill="none" stroke="#3a9e3a" stroke-width="1.3" stroke-linejoin="round"/>
<circle cx="78.6" cy="511.6" r="2.15" fill="#35a835"/>
<circle cx="84.8" cy="514" r="2.15" fill="#35a835"/>
<circle cx="88" cy="493" r="2.15" fill="#35a835"/>
<circle cx="97.8" cy="488.1" r="2.15" fill="#35a835"/>
<circle cx="97.9" cy="509.8" r="2.15" fill="#35a835"/>
<circle cx="101.3" cy="512.6" r="2.15" fill="#35a835"/>
<circle cx="105.4" cy="512.6" r="2.15" fill="#35a835"/>
<circle cx="108.8" cy="512.6" r="2.15" fill="#35a835"/>
<circle cx="110" cy="496.1" r="2.15" fill="#35a835"/>
<circle cx="110.4" cy="512.6" r="2.15" fill="#35a835"/>
<circle cx="127" cy="512.6" r="2.15" fill="#35a835"/>
<circle cx="137.7" cy="514.6" r="2.15" fill="#35a835"/>
<circle cx="138.2" cy="501.5" r="2.15" fill="#35a835"/>
<circle cx="139.4" cy="510.2" r="2.15" fill="#35a835"/>
<circle cx="145.2" cy="514.8" r="2.15" fill="#35a835"/>
<circle cx="154.7" cy="514.8" r="2.15" fill="#35a835"/>
<circle cx="159.6" cy="514.8" r="2.15" fill="#35a835"/>
<circle cx="164.3" cy="514.8" r="2.15" fill="#35a835"/>
<circle cx="168.8" cy="514.8" r="2.15" fill="#35a835"/>
<circle cx="173.3" cy="514.8" r="2.15" fill="#35a835"/>
<circle cx="178" cy="514.8" r="2.15" fill="#35a835"/>
<circle cx="182.6" cy="514.8" r="2.15" fill="#35a835"/>
<circle cx="187" cy="514.8" r="2.15" fill="#35a835"/>
<circle cx="191.7" cy="514.8" r="2.15" fill="#35a835"/>
<circle cx="208.5" cy="514.8" r="2.15" fill="#35a835"/>
<polyline points="230.8,480 233.8,480 233.8,488 238.8,488 242.8,512.8 249.5,512.8 255,512.8 262.5,512.8 272,512.8 290,512.8 299.8,512.8 305.5,512.8 312,512.8 321.2,512.8 332.5,512.8 340,512.8" fill="none" stroke="#3a9e3a" stroke-width="1.3" stroke-linejoin="round"/>
<circle cx="230.8" cy="480" r="2.15" fill="#35a835"/>
<circle cx="233.8" cy="480" r="2.15" fill="#35a835"/>
<circle cx="233.8" cy="488" r="2.15" fill="#35a835"/>
<circle cx="238.8" cy="488" r="2.15" fill="#35a835"/>
<circle cx="242.8" cy="512.8" r="2.15" fill="#35a835"/>
<circle cx="249.5" cy="512.8" r="2.15" fill="#35a835"/>
<circle cx="255" cy="512.8" r="2.15" fill="#35a835"/>
<circle cx="262.5" cy="512.8" r="2.15" fill="#35a835"/>
<circle cx="272" cy="512.8" r="2.15" fill="#35a835"/>
<circle cx="290" cy="512.8" r="2.15" fill="#35a835"/>
<circle cx="299.8" cy="512.8" r="2.15" fill="#35a835"/>
<circle cx="305.5" cy="512.8" r="2.15" fill="#35a835"/>
<circle cx="312" cy="512.8" r="2.15" fill="#35a835"/>
<circle cx="321.2" cy="512.8" r="2.15" fill="#35a835"/>
<circle cx="332.5" cy="512.8" r="2.15" fill="#35a835"/>
<circle cx="340" cy="512.8" r="2.15" fill="#35a835"/>
<polyline points="360,500.5 362.5,505.5 365,505.5 370,514.5 375,508.8 377.5,498 382,497.5 383,478.8 384,470.5 385,482 385.5,497.5 387.5,511.2 395.5,514.5 401.2,514.5 423.8,514.5" fill="none" stroke="#3a9e3a" stroke-width="1.3" stroke-linejoin="round"/>
<circle cx="360" cy="500.5" r="2.15" fill="#35a835"/>
<circle cx="362.5" cy="505.5" r="2.15" fill="#35a835"/>
<circle cx="365" cy="505.5" r="2.15" fill="#35a835"/>
<circle cx="370" cy="514.5" r="2.15" fill="#35a835"/>
<circle cx="375" cy="508.8" r="2.15" fill="#35a835"/>
<circle cx="377.5" cy="498" r="2.15" fill="#35a835"/>
<circle cx="382" cy="497.5" r="2.15" fill="#35a835"/>
<circle cx="383" cy="478.8" r="2.15" fill="#35a835"/>
<circle cx="384" cy="470.5" r="2.15" fill="#35a835"/>
<circle cx="385" cy="482" r="2.15" fill="#35a835"/>
<circle cx="385.5" cy="497.5" r="2.15" fill="#35a835"/>
<circle cx="387.5" cy="511.2" r="2.15" fill="#35a835"/>
<circle cx="395.5" cy="514.5" r="2.15" fill="#35a835"/>
<circle cx="401.2" cy="514.5" r="2.15" fill="#35a835"/>
<circle cx="423.8" cy="514.5" r="2.15" fill="#35a835"/>
<circle cx="384" cy="470.5" r="2.4" fill="#5a8a5a"/>
<polyline points="447.5,506.2 447.5,492.5 449.2,479.2 450.5,465.5 451.2,479.2 455.8,512 461.8,514.5 467.5,508.8 468,503 468,498 470.5,492.5 473.8,496.2 474.5,503.8 476.2,507.5 477,509.5 477.5,493.8 478.2,485.5 478.8,482.5 479.5,506.2 483,509.5 487,503.8 488.8,508.8 505.5,514.5 511.2,514.5" fill="none" stroke="#3a9e3a" stroke-width="1.3" stroke-linejoin="round"/>
<circle cx="447.5" cy="506.2" r="2.15" fill="#35a835"/>
<circle cx="447.5" cy="492.5" r="2.15" fill="#35a835"/>
<circle cx="449.2" cy="479.2" r="2.15" fill="#35a835"/>
<circle cx="450.5" cy="465.5" r="2.15" fill="#35a835"/>
<circle cx="451.2" cy="479.2" r="2.15" fill="#35a835"/>
<circle cx="455.8" cy="512" r="2.15" fill="#35a835"/>
<circle cx="461.8" cy="514.5" r="2.15" fill="#35a835"/>
<circle cx="467.5" cy="508.8" r="2.15" fill="#35a835"/>
<circle cx="468" cy="503" r="2.15" fill="#35a835"/>
<circle cx="468" cy="498" r="2.15" fill="#35a835"/>
<circle cx="470.5" cy="492.5" r="2.15" fill="#35a835"/>
<circle cx="473.8" cy="496.2" r="2.15" fill="#35a835"/>
<circle cx="474.5" cy="503.8" r="2.15" fill="#35a835"/>
<circle cx="476.2" cy="507.5" r="2.15" fill="#35a835"/>
<circle cx="477" cy="509.5" r="2.15" fill="#35a835"/>
<circle cx="477.5" cy="493.8" r="2.15" fill="#35a835"/>
<circle cx="478.2" cy="485.5" r="2.15" fill="#35a835"/>
<circle cx="478.8" cy="482.5" r="2.15" fill="#35a835"/>
<circle cx="479.5" cy="506.2" r="2.15" fill="#35a835"/>
<circle cx="483" cy="509.5" r="2.15" fill="#35a835"/>
<circle cx="487" cy="503.8" r="2.15" fill="#35a835"/>
<circle cx="488.8" cy="508.8" r="2.15" fill="#35a835"/>
<circle cx="505.5" cy="514.5" r="2.15" fill="#35a835"/>
<circle cx="511.2" cy="514.5" r="2.15" fill="#35a835"/>
<rect x="77.5" y="571.5" width="135.3" height="17.8" fill="#d9d9d9"/>
<line x1="77.5" y1="529.6" x2="77.5" y2="590.4" stroke="#111" stroke-width="1.5" />
<line x1="74.2" y1="533.2" x2="77.5" y2="533.2" stroke="#111" stroke-width="1.1" />
<text x="70.2" y="536.6" font-size="9.7" text-anchor="end" fill="#1a1a1a" stroke="#1a1a1a" stroke-width="0.15">0</text>
<line x1="74.2" y1="542.8" x2="77.5" y2="542.8" stroke="#111" stroke-width="1.1" />
<text x="70.2" y="546.2" font-size="9.7" text-anchor="end" fill="#1a1a1a" stroke="#1a1a1a" stroke-width="0.15">−1</text>
<line x1="74.2" y1="552.4" x2="77.5" y2="552.4" stroke="#111" stroke-width="1.1" />
<text x="70.2" y="555.8" font-size="9.7" text-anchor="end" fill="#1a1a1a" stroke="#1a1a1a" stroke-width="0.15">−2</text>
<line x1="74.2" y1="561.9" x2="77.5" y2="561.9" stroke="#111" stroke-width="1.1" />
<text x="70.2" y="565.3" font-size="9.7" text-anchor="end" fill="#1a1a1a" stroke="#1a1a1a" stroke-width="0.15">−3</text>
<line x1="74.2" y1="571.5" x2="77.5" y2="571.5" stroke="#111" stroke-width="1.1" />
<text x="70.2" y="574.9" font-size="9.7" text-anchor="end" fill="#1a1a1a" stroke="#1a1a1a" stroke-width="0.15">−4</text>
<line x1="74.2" y1="581" x2="77.5" y2="581" stroke="#111" stroke-width="1.1" />
<text x="70.2" y="584.4" font-size="9.7" text-anchor="end" fill="#1a1a1a" stroke="#1a1a1a" stroke-width="0.15">≤−5</text>
<line x1="76.8" y1="590.4" x2="216" y2="590.4" stroke="#111" stroke-width="1.5" />
<line x1="79" y1="590.4" x2="79" y2="593.8" stroke="#111" stroke-width="1.1" />
<line x1="101.3" y1="590.4" x2="101.3" y2="593.8" stroke="#111" stroke-width="1.1" />
<line x1="123.6" y1="590.4" x2="123.6" y2="593.8" stroke="#111" stroke-width="1.1" />
<line x1="145.9" y1="590.4" x2="145.9" y2="593.8" stroke="#111" stroke-width="1.1" />
<line x1="168.2" y1="590.4" x2="168.2" y2="593.8" stroke="#111" stroke-width="1.1" />
<line x1="190.5" y1="590.4" x2="190.5" y2="593.8" stroke="#111" stroke-width="1.1" />
<line x1="212.8" y1="590.4" x2="212.8" y2="593.8" stroke="#111" stroke-width="1.1" />
<rect x="230.1" y="571.9" width="110.55" height="17.4" fill="#d9d9d9"/>
<line x1="230.1" y1="529.6" x2="230.1" y2="590.4" stroke="#111" stroke-width="1.5" />
<line x1="226.8" y1="533.6" x2="230.1" y2="533.6" stroke="#111" stroke-width="1.1" />
<line x1="226.8" y1="543.2" x2="230.1" y2="543.2" stroke="#111" stroke-width="1.1" />
<line x1="226.8" y1="552.8" x2="230.1" y2="552.8" stroke="#111" stroke-width="1.1" />
<line x1="226.8" y1="562.3" x2="230.1" y2="562.3" stroke="#111" stroke-width="1.1" />
<line x1="226.8" y1="571.9" x2="230.1" y2="571.9" stroke="#111" stroke-width="1.1" />
<line x1="226.8" y1="581.4" x2="230.1" y2="581.4" stroke="#111" stroke-width="1.1" />
<line x1="229.4" y1="590.4" x2="344.5" y2="590.4" stroke="#111" stroke-width="1.5" />
<line x1="231.4" y1="590.4" x2="231.4" y2="593.8" stroke="#111" stroke-width="1.1" />
<line x1="253.25" y1="590.4" x2="253.25" y2="593.8" stroke="#111" stroke-width="1.1" />
<line x1="275.1" y1="590.4" x2="275.1" y2="593.8" stroke="#111" stroke-width="1.1" />
<line x1="296.95" y1="590.4" x2="296.95" y2="593.8" stroke="#111" stroke-width="1.1" />
<line x1="318.8" y1="590.4" x2="318.8" y2="593.8" stroke="#111" stroke-width="1.1" />
<line x1="340.65" y1="590.4" x2="340.65" y2="593.8" stroke="#111" stroke-width="1.1" />
<rect x="358.6" y="571.9" width="63.85" height="17.4" fill="#d9d9d9"/>
<line x1="358.6" y1="529.6" x2="358.6" y2="590.4" stroke="#111" stroke-width="1.5" />
<line x1="355.3" y1="533.6" x2="358.6" y2="533.6" stroke="#111" stroke-width="1.1" />
<line x1="355.3" y1="543.2" x2="358.6" y2="543.2" stroke="#111" stroke-width="1.1" />
<line x1="355.3" y1="552.8" x2="358.6" y2="552.8" stroke="#111" stroke-width="1.1" />
<line x1="355.3" y1="562.3" x2="358.6" y2="562.3" stroke="#111" stroke-width="1.1" />
<line x1="355.3" y1="571.9" x2="358.6" y2="571.9" stroke="#111" stroke-width="1.1" />
<line x1="355.3" y1="581.4" x2="358.6" y2="581.4" stroke="#111" stroke-width="1.1" />
<line x1="357.9" y1="590.4" x2="426" y2="590.4" stroke="#111" stroke-width="1.5" />
<line x1="361.1" y1="590.4" x2="361.1" y2="593.8" stroke="#111" stroke-width="1.1" />
<line x1="381.55" y1="590.4" x2="381.55" y2="593.8" stroke="#111" stroke-width="1.1" />
<line x1="402" y1="590.4" x2="402" y2="593.8" stroke="#111" stroke-width="1.1" />
<line x1="422.45" y1="590.4" x2="422.45" y2="593.8" stroke="#111" stroke-width="1.1" />
<rect x="446" y="572" width="63.75" height="17.3" fill="#d9d9d9"/>
<line x1="446" y1="529.6" x2="446" y2="590.4" stroke="#111" stroke-width="1.5" />
<line x1="442.7" y1="533.7" x2="446" y2="533.7" stroke="#111" stroke-width="1.1" />
<line x1="442.7" y1="543.3" x2="446" y2="543.3" stroke="#111" stroke-width="1.1" />
<line x1="442.7" y1="552.9" x2="446" y2="552.9" stroke="#111" stroke-width="1.1" />
<line x1="442.7" y1="562.4" x2="446" y2="562.4" stroke="#111" stroke-width="1.1" />
<line x1="442.7" y1="572" x2="446" y2="572" stroke="#111" stroke-width="1.1" />
<line x1="442.7" y1="581.5" x2="446" y2="581.5" stroke="#111" stroke-width="1.1" />
<line x1="445.3" y1="590.4" x2="513.5" y2="590.4" stroke="#111" stroke-width="1.5" />
<line x1="447.8" y1="590.4" x2="447.8" y2="593.8" stroke="#111" stroke-width="1.1" />
<line x1="468.45" y1="590.4" x2="468.45" y2="593.8" stroke="#111" stroke-width="1.1" />
<line x1="489.1" y1="590.4" x2="489.1" y2="593.8" stroke="#111" stroke-width="1.1" />
<line x1="509.75" y1="590.4" x2="509.75" y2="593.8" stroke="#111" stroke-width="1.1" />
<polyline points="105,537 110.5,543.8 120,541.2 128,537.5 134.5,543 146.2,538.8 150,545.5 160,542 165,550 170.5,550 176.2,550.5 181.2,553.8 187,558 192.5,538.8" fill="none" stroke="#3a9e3a" stroke-width="1.3" stroke-linejoin="round" stroke-dasharray="3.2,2"/>
<circle cx="105" cy="537" r="2.2" fill="#fff" stroke="#3a9e3a" stroke-width="1.15"/>
<circle cx="110.5" cy="543.8" r="2.2" fill="#fff" stroke="#3a9e3a" stroke-width="1.15"/>
<circle cx="120" cy="541.2" r="2.2" fill="#fff" stroke="#3a9e3a" stroke-width="1.15"/>
<circle cx="128" cy="537.5" r="2.2" fill="#fff" stroke="#3a9e3a" stroke-width="1.15"/>
<circle cx="134.5" cy="543" r="2.2" fill="#fff" stroke="#3a9e3a" stroke-width="1.15"/>
<circle cx="146.2" cy="538.8" r="2.2" fill="#fff" stroke="#3a9e3a" stroke-width="1.15"/>
<circle cx="150" cy="545.5" r="2.2" fill="#fff" stroke="#3a9e3a" stroke-width="1.15"/>
<circle cx="160" cy="542" r="2.2" fill="#fff" stroke="#3a9e3a" stroke-width="1.15"/>
<circle cx="165" cy="550" r="2.2" fill="#fff" stroke="#3a9e3a" stroke-width="1.15"/>
<circle cx="170.5" cy="550" r="2.2" fill="#fff" stroke="#3a9e3a" stroke-width="1.15"/>
<circle cx="176.2" cy="550.5" r="2.2" fill="#fff" stroke="#3a9e3a" stroke-width="1.15"/>
<circle cx="181.2" cy="553.8" r="2.2" fill="#fff" stroke="#3a9e3a" stroke-width="1.15"/>
<circle cx="187" cy="558" r="2.2" fill="#fff" stroke="#3a9e3a" stroke-width="1.15"/>
<circle cx="192.5" cy="538.8" r="2.2" fill="#fff" stroke="#3a9e3a" stroke-width="1.15"/>
<polyline points="105,540 110.5,559.5 120,548.8 121.2,541.2 123.8,542 126.2,543 129.5,540 132,540.5 134.5,544.5 138.8,546.2 141.2,546.2 143.8,545.5 150,552.5 155.5,538.8 160,540 165,547.5 170.5,548.8 176.2,550.5 181.8,542.5 187,555.5 192.5,541.2 209.5,548" fill="none" stroke="#3a9e3a" stroke-width="1.3" stroke-linejoin="round"/>
<circle cx="105" cy="540" r="2.3" fill="#35a835"/>
<circle cx="110.5" cy="559.5" r="2.3" fill="#35a835"/>
<circle cx="120" cy="548.8" r="2.3" fill="#35a835"/>
<circle cx="121.2" cy="541.2" r="2.3" fill="#35a835"/>
<circle cx="123.8" cy="542" r="2.3" fill="#35a835"/>
<circle cx="126.2" cy="543" r="2.3" fill="#35a835"/>
<circle cx="129.5" cy="540" r="2.3" fill="#35a835"/>
<circle cx="132" cy="540.5" r="2.3" fill="#35a835"/>
<circle cx="134.5" cy="544.5" r="2.3" fill="#35a835"/>
<circle cx="138.8" cy="546.2" r="2.3" fill="#35a835"/>
<circle cx="141.2" cy="546.2" r="2.3" fill="#35a835"/>
<circle cx="143.8" cy="545.5" r="2.3" fill="#35a835"/>
<circle cx="150" cy="552.5" r="2.3" fill="#35a835"/>
<circle cx="155.5" cy="538.8" r="2.3" fill="#35a835"/>
<circle cx="160" cy="540" r="2.3" fill="#35a835"/>
<circle cx="165" cy="547.5" r="2.3" fill="#35a835"/>
<circle cx="170.5" cy="548.8" r="2.3" fill="#35a835"/>
<circle cx="176.2" cy="550.5" r="2.3" fill="#35a835"/>
<circle cx="181.8" cy="542.5" r="2.3" fill="#35a835"/>
<circle cx="187" cy="555.5" r="2.3" fill="#35a835"/>
<circle cx="192.5" cy="541.2" r="2.3" fill="#35a835"/>
<circle cx="209.5" cy="548" r="2.3" fill="#35a835"/>
<polyline points="243.2,546.2 250.5,545 262.5,547 272,542 300.5,562 312.5,541.2 322,553.8 332.5,565" fill="none" stroke="#3a9e3a" stroke-width="1.3" stroke-linejoin="round" stroke-dasharray="3.2,2"/>
<circle cx="243.2" cy="546.2" r="2.2" fill="#fff" stroke="#3a9e3a" stroke-width="1.15"/>
<circle cx="250.5" cy="545" r="2.2" fill="#fff" stroke="#3a9e3a" stroke-width="1.15"/>
<circle cx="262.5" cy="547" r="2.2" fill="#fff" stroke="#3a9e3a" stroke-width="1.15"/>
<circle cx="272" cy="542" r="2.2" fill="#fff" stroke="#3a9e3a" stroke-width="1.15"/>
<circle cx="300.5" cy="562" r="2.2" fill="#fff" stroke="#3a9e3a" stroke-width="1.15"/>
<circle cx="312.5" cy="541.2" r="2.2" fill="#fff" stroke="#3a9e3a" stroke-width="1.15"/>
<circle cx="322" cy="553.8" r="2.2" fill="#fff" stroke="#3a9e3a" stroke-width="1.15"/>
<circle cx="332.5" cy="565" r="2.2" fill="#fff" stroke="#3a9e3a" stroke-width="1.15"/>
<polyline points="243.2,553.8 250.5,543 255.5,541.2 262.5,549.5 272,542.5 290,553.8 300.5,550 305.5,563 312.5,546.2 321.2,563 332.5,565.5 339.2,548.8" fill="none" stroke="#3a9e3a" stroke-width="1.3" stroke-linejoin="round"/>
<circle cx="243.2" cy="553.8" r="2.3" fill="#35a835"/>
<circle cx="250.5" cy="543" r="2.3" fill="#35a835"/>
<circle cx="255.5" cy="541.2" r="2.3" fill="#35a835"/>
<circle cx="262.5" cy="549.5" r="2.3" fill="#35a835"/>
<circle cx="272" cy="542.5" r="2.3" fill="#35a835"/>
<circle cx="290" cy="553.8" r="2.3" fill="#35a835"/>
<circle cx="300.5" cy="550" r="2.3" fill="#35a835"/>
<circle cx="305.5" cy="563" r="2.3" fill="#35a835"/>
<circle cx="312.5" cy="546.2" r="2.3" fill="#35a835"/>
<circle cx="321.2" cy="563" r="2.3" fill="#35a835"/>
<circle cx="332.5" cy="565.5" r="2.3" fill="#35a835"/>
<circle cx="339.2" cy="548.8" r="2.3" fill="#35a835"/>
<polyline points="359.5,545 362,547.5 364.5,550 368.8,581.2 373.8,548 376.2,548 381.2,534.5 383,538.8 393.8,556.2 421.2,553.8" fill="none" stroke="#3a9e3a" stroke-width="1.3" stroke-linejoin="round" stroke-dasharray="3.2,2"/>
<circle cx="359.5" cy="545" r="2.2" fill="#fff" stroke="#3a9e3a" stroke-width="1.15"/>
<circle cx="362" cy="547.5" r="2.2" fill="#fff" stroke="#3a9e3a" stroke-width="1.15"/>
<circle cx="364.5" cy="550" r="2.2" fill="#fff" stroke="#3a9e3a" stroke-width="1.15"/>
<circle cx="368.8" cy="581.2" r="2.2" fill="#fff" stroke="#3a9e3a" stroke-width="1.15"/>
<circle cx="373.8" cy="548" r="2.2" fill="#fff" stroke="#3a9e3a" stroke-width="1.15"/>
<circle cx="376.2" cy="548" r="2.2" fill="#fff" stroke="#3a9e3a" stroke-width="1.15"/>
<circle cx="381.2" cy="534.5" r="2.2" fill="#fff" stroke="#3a9e3a" stroke-width="1.15"/>
<circle cx="383" cy="538.8" r="2.2" fill="#fff" stroke="#3a9e3a" stroke-width="1.15"/>
<circle cx="393.8" cy="556.2" r="2.2" fill="#fff" stroke="#3a9e3a" stroke-width="1.15"/>
<circle cx="421.2" cy="553.8" r="2.2" fill="#fff" stroke="#3a9e3a" stroke-width="1.15"/>
<polyline points="358.8,546.2 361.2,557.5 363.8,573.2 368.8,560 373.8,557 376.2,564.5 381.2,552 383,553.8 386.2,546.2 393.8,550.5 399.5,552 421.2,558" fill="none" stroke="#3a9e3a" stroke-width="1.3" stroke-linejoin="round"/>
<circle cx="358.8" cy="546.2" r="2.3" fill="#35a835"/>
<circle cx="361.2" cy="557.5" r="2.3" fill="#35a835"/>
<circle cx="363.8" cy="573.2" r="2.3" fill="#35a835"/>
<circle cx="368.8" cy="560" r="2.3" fill="#35a835"/>
<circle cx="373.8" cy="557" r="2.3" fill="#35a835"/>
<circle cx="376.2" cy="564.5" r="2.3" fill="#35a835"/>
<circle cx="381.2" cy="552" r="2.3" fill="#35a835"/>
<circle cx="383" cy="553.8" r="2.3" fill="#35a835"/>
<circle cx="386.2" cy="546.2" r="2.3" fill="#35a835"/>
<circle cx="393.8" cy="550.5" r="2.3" fill="#35a835"/>
<circle cx="399.5" cy="552" r="2.3" fill="#35a835"/>
<circle cx="421.2" cy="558" r="2.3" fill="#35a835"/>
<polyline points="447.9,550.6 448.8,556.3 449.8,565.4 450.4,569.8 456.2,544.8 467.1,550.6 468.1,563.1 470.4,564 474.2,569.8 477.7,564.6 480,546.7 483.1,541 487.7,555.4 490.8,560.2 497.9,560.2 510.8,561.5" fill="none" stroke="#3a9e3a" stroke-width="1.3" stroke-linejoin="round"/>
<polyline points="447.6,548.5 448.6,553.5 449.6,559 450.2,563.5 456.2,544.8 467.1,549.6 468.4,555.5 474.2,555.4 480,559.6 483.1,540.6 486.3,548.7 489.8,551.2 491.5,555" fill="none" stroke="#3a9e3a" stroke-width="1.3" stroke-linejoin="round" stroke-dasharray="3.2,2"/>
<circle cx="447.9" cy="550.6" r="2.3" fill="#35a835"/>
<circle cx="448.8" cy="556.3" r="2.3" fill="#35a835"/>
<circle cx="449.8" cy="565.4" r="2.3" fill="#35a835"/>
<circle cx="450.4" cy="569.8" r="2.3" fill="#35a835"/>
<circle cx="456.2" cy="544.8" r="2.3" fill="#35a835"/>
<circle cx="467.1" cy="550.6" r="2.3" fill="#35a835"/>
<circle cx="468.1" cy="563.1" r="2.3" fill="#35a835"/>
<circle cx="470.4" cy="564" r="2.3" fill="#35a835"/>
<circle cx="474.2" cy="569.8" r="2.3" fill="#35a835"/>
<circle cx="477.7" cy="564.6" r="2.3" fill="#35a835"/>
<circle cx="480" cy="546.7" r="2.3" fill="#35a835"/>
<circle cx="483.1" cy="541" r="2.3" fill="#35a835"/>
<circle cx="487.7" cy="555.4" r="2.3" fill="#35a835"/>
<circle cx="490.8" cy="560.2" r="2.3" fill="#35a835"/>
<circle cx="497.9" cy="560.2" r="2.3" fill="#35a835"/>
<circle cx="510.8" cy="561.5" r="2.3" fill="#35a835"/>
<circle cx="447.6" cy="548.5" r="2.2" fill="#fff" stroke="#3a9e3a" stroke-width="1.15"/>
<circle cx="448.6" cy="553.5" r="2.2" fill="#fff" stroke="#3a9e3a" stroke-width="1.15"/>
<circle cx="449.6" cy="559" r="2.2" fill="#fff" stroke="#3a9e3a" stroke-width="1.15"/>
<circle cx="450.2" cy="563.5" r="2.2" fill="#fff" stroke="#3a9e3a" stroke-width="1.15"/>
<circle cx="456.2" cy="544.8" r="2.2" fill="#fff" stroke="#3a9e3a" stroke-width="1.15"/>
<circle cx="467.1" cy="549.6" r="2.2" fill="#fff" stroke="#3a9e3a" stroke-width="1.15"/>
<circle cx="468.4" cy="555.5" r="2.2" fill="#fff" stroke="#3a9e3a" stroke-width="1.15"/>
<circle cx="474.2" cy="555.4" r="2.2" fill="#fff" stroke="#3a9e3a" stroke-width="1.15"/>
<circle cx="480" cy="559.6" r="2.2" fill="#fff" stroke="#3a9e3a" stroke-width="1.15"/>
<circle cx="483.1" cy="540.6" r="2.2" fill="#fff" stroke="#3a9e3a" stroke-width="1.15"/>
<circle cx="486.3" cy="548.7" r="2.2" fill="#fff" stroke="#3a9e3a" stroke-width="1.15"/>
<circle cx="489.8" cy="551.2" r="2.2" fill="#fff" stroke="#3a9e3a" stroke-width="1.15"/>
<circle cx="491.5" cy="555" r="2.2" fill="#fff" stroke="#3a9e3a" stroke-width="1.15"/>
<circle cx="450.4" cy="569.8" r="2.3" fill="#35a835"/>
<circle cx="468.1" cy="563.1" r="2.3" fill="#35a835"/>
<circle cx="474.2" cy="569.8" r="2.3" fill="#35a835"/>
<circle cx="490.8" cy="560.2" r="2.3" fill="#35a835"/>
<circle cx="497.9" cy="560.2" r="2.3" fill="#35a835"/>
<circle cx="510.8" cy="561.5" r="2.3" fill="#35a835"/>
<rect x="77.5" y="643.5" width="135.3" height="17.9" fill="#d9d9d9"/>
<line x1="77.5" y1="601.8" x2="77.5" y2="662.4" stroke="#111" stroke-width="1.5" />
<line x1="74.2" y1="605.1" x2="77.5" y2="605.1" stroke="#111" stroke-width="1.1" />
<text x="70.2" y="608.5" font-size="9.7" text-anchor="end" fill="#1a1a1a" stroke="#1a1a1a" stroke-width="0.15">0</text>
<line x1="74.2" y1="614.7" x2="77.5" y2="614.7" stroke="#111" stroke-width="1.1" />
<text x="70.2" y="618.1" font-size="9.7" text-anchor="end" fill="#1a1a1a" stroke="#1a1a1a" stroke-width="0.15">−1</text>
<line x1="74.2" y1="624.3" x2="77.5" y2="624.3" stroke="#111" stroke-width="1.1" />
<text x="70.2" y="627.7" font-size="9.7" text-anchor="end" fill="#1a1a1a" stroke="#1a1a1a" stroke-width="0.15">−2</text>
<line x1="74.2" y1="633.9" x2="77.5" y2="633.9" stroke="#111" stroke-width="1.1" />
<text x="70.2" y="637.3" font-size="9.7" text-anchor="end" fill="#1a1a1a" stroke="#1a1a1a" stroke-width="0.15">−3</text>
<line x1="74.2" y1="643.5" x2="77.5" y2="643.5" stroke="#111" stroke-width="1.1" />
<text x="70.2" y="646.9" font-size="9.7" text-anchor="end" fill="#1a1a1a" stroke="#1a1a1a" stroke-width="0.15">−4</text>
<line x1="74.2" y1="653.1" x2="77.5" y2="653.1" stroke="#111" stroke-width="1.1" />
<text x="70.2" y="656.5" font-size="9.7" text-anchor="end" fill="#1a1a1a" stroke="#1a1a1a" stroke-width="0.15">≤−5</text>
<line x1="76.8" y1="662.4" x2="216" y2="662.4" stroke="#111" stroke-width="1.5" />
<line x1="79" y1="662.4" x2="79" y2="665.8" stroke="#111" stroke-width="1.1" />
<line x1="101.3" y1="662.4" x2="101.3" y2="665.8" stroke="#111" stroke-width="1.1" />
<line x1="123.6" y1="662.4" x2="123.6" y2="665.8" stroke="#111" stroke-width="1.1" />
<line x1="145.9" y1="662.4" x2="145.9" y2="665.8" stroke="#111" stroke-width="1.1" />
<line x1="168.2" y1="662.4" x2="168.2" y2="665.8" stroke="#111" stroke-width="1.1" />
<line x1="190.5" y1="662.4" x2="190.5" y2="665.8" stroke="#111" stroke-width="1.1" />
<line x1="212.8" y1="662.4" x2="212.8" y2="665.8" stroke="#111" stroke-width="1.1" />
<rect x="230.1" y="643.5" width="110.55" height="17.9" fill="#d9d9d9"/>
<line x1="230.1" y1="601.8" x2="230.1" y2="662.4" stroke="#111" stroke-width="1.5" />
<line x1="226.8" y1="605.1" x2="230.1" y2="605.1" stroke="#111" stroke-width="1.1" />
<line x1="226.8" y1="614.7" x2="230.1" y2="614.7" stroke="#111" stroke-width="1.1" />
<line x1="226.8" y1="624.3" x2="230.1" y2="624.3" stroke="#111" stroke-width="1.1" />
<line x1="226.8" y1="633.9" x2="230.1" y2="633.9" stroke="#111" stroke-width="1.1" />
<line x1="226.8" y1="643.5" x2="230.1" y2="643.5" stroke="#111" stroke-width="1.1" />
<line x1="226.8" y1="653.1" x2="230.1" y2="653.1" stroke="#111" stroke-width="1.1" />
<line x1="229.4" y1="662.4" x2="344.5" y2="662.4" stroke="#111" stroke-width="1.5" />
<line x1="231.4" y1="662.4" x2="231.4" y2="665.8" stroke="#111" stroke-width="1.1" />
<line x1="253.25" y1="662.4" x2="253.25" y2="665.8" stroke="#111" stroke-width="1.1" />
<line x1="275.1" y1="662.4" x2="275.1" y2="665.8" stroke="#111" stroke-width="1.1" />
<line x1="296.95" y1="662.4" x2="296.95" y2="665.8" stroke="#111" stroke-width="1.1" />
<line x1="318.8" y1="662.4" x2="318.8" y2="665.8" stroke="#111" stroke-width="1.1" />
<line x1="340.65" y1="662.4" x2="340.65" y2="665.8" stroke="#111" stroke-width="1.1" />
<rect x="358.6" y="644.3" width="63.85" height="17.1" fill="#d9d9d9"/>
<line x1="358.6" y1="601.8" x2="358.6" y2="662.4" stroke="#111" stroke-width="1.5" />
<line x1="355.3" y1="605.9" x2="358.6" y2="605.9" stroke="#111" stroke-width="1.1" />
<line x1="355.3" y1="615.5" x2="358.6" y2="615.5" stroke="#111" stroke-width="1.1" />
<line x1="355.3" y1="625.1" x2="358.6" y2="625.1" stroke="#111" stroke-width="1.1" />
<line x1="355.3" y1="634.7" x2="358.6" y2="634.7" stroke="#111" stroke-width="1.1" />
<line x1="355.3" y1="644.3" x2="358.6" y2="644.3" stroke="#111" stroke-width="1.1" />
<line x1="355.3" y1="653.9" x2="358.6" y2="653.9" stroke="#111" stroke-width="1.1" />
<line x1="357.9" y1="662.4" x2="426" y2="662.4" stroke="#111" stroke-width="1.5" />
<line x1="361.1" y1="662.4" x2="361.1" y2="665.8" stroke="#111" stroke-width="1.1" />
<line x1="381.55" y1="662.4" x2="381.55" y2="665.8" stroke="#111" stroke-width="1.1" />
<line x1="402" y1="662.4" x2="402" y2="665.8" stroke="#111" stroke-width="1.1" />
<line x1="422.45" y1="662.4" x2="422.45" y2="665.8" stroke="#111" stroke-width="1.1" />
<rect x="446" y="644.5" width="63.75" height="16.9" fill="#d9d9d9"/>
<line x1="446" y1="601.8" x2="446" y2="662.4" stroke="#111" stroke-width="1.5" />
<line x1="442.7" y1="606.1" x2="446" y2="606.1" stroke="#111" stroke-width="1.1" />
<line x1="442.7" y1="615.7" x2="446" y2="615.7" stroke="#111" stroke-width="1.1" />
<line x1="442.7" y1="625.3" x2="446" y2="625.3" stroke="#111" stroke-width="1.1" />
<line x1="442.7" y1="634.9" x2="446" y2="634.9" stroke="#111" stroke-width="1.1" />
<line x1="442.7" y1="644.5" x2="446" y2="644.5" stroke="#111" stroke-width="1.1" />
<line x1="442.7" y1="654.1" x2="446" y2="654.1" stroke="#111" stroke-width="1.1" />
<line x1="445.3" y1="662.4" x2="513.5" y2="662.4" stroke="#111" stroke-width="1.5" />
<line x1="447.8" y1="662.4" x2="447.8" y2="665.8" stroke="#111" stroke-width="1.1" />
<line x1="468.45" y1="662.4" x2="468.45" y2="665.8" stroke="#111" stroke-width="1.1" />
<line x1="489.1" y1="662.4" x2="489.1" y2="665.8" stroke="#111" stroke-width="1.1" />
<line x1="509.75" y1="662.4" x2="509.75" y2="665.8" stroke="#111" stroke-width="1.1" />
<polyline points="104.5,612.6 145.7,633 186.3,653" fill="none" stroke="#1b4d80" stroke-width="1.3" stroke-linejoin="round"/>
<circle cx="104.5" cy="612.6" r="2.2" fill="#1b4d80"/>
<circle cx="145.7" cy="633" r="2.2" fill="#1b4d80"/>
<circle cx="186.3" cy="653" r="2.2" fill="#1b4d80"/>
<polyline points="104.5,608 145.7,633 186.3,653" fill="none" stroke="#eea027" stroke-width="1.3" stroke-linejoin="round"/>
<circle cx="104.5" cy="608" r="2.2" fill="#eea027"/>
<circle cx="145.7" cy="633" r="2.2" fill="#eea027"/>
<circle cx="186.3" cy="653" r="2.2" fill="#eea027"/>
<polyline points="104.5,610.5 145.7,633 186.3,653 208.7,653" fill="none" stroke="#b51235" stroke-width="1.3" stroke-linejoin="round"/>
<circle cx="104.5" cy="610.5" r="2.2" fill="#cc0f30"/>
<circle cx="145.7" cy="633" r="2.2" fill="#cc0f30"/>
<circle cx="186.3" cy="653" r="2.2" fill="#cc0f30"/>
<circle cx="208.7" cy="653" r="2.2" fill="#cc0f30"/>
<polyline points="104.5,643.3 145.7,617.5 186.3,629.5 208.7,618.7" fill="none" stroke="#3a9e3a" stroke-width="1.3" stroke-linejoin="round"/>
<circle cx="104.5" cy="643.3" r="2.2" fill="#3a9e3a"/>
<circle cx="145.7" cy="617.5" r="2.2" fill="#3a9e3a"/>
<circle cx="186.3" cy="629.5" r="2.2" fill="#3a9e3a"/>
<circle cx="208.7" cy="618.7" r="2.2" fill="#3a9e3a"/>
<polyline points="251.3,632.5 273,633.3 313,643 333.8,653" fill="none" stroke="#1b4d80" stroke-width="1.3" stroke-linejoin="round"/>
<circle cx="251.3" cy="632.5" r="2.2" fill="#1b4d80"/>
<circle cx="273" cy="633.3" r="2.2" fill="#1b4d80"/>
<circle cx="313" cy="643" r="2.2" fill="#1b4d80"/>
<circle cx="333.8" cy="653" r="2.2" fill="#1b4d80"/>
<polyline points="251.3,636.8 273,634.5 313,643 333.8,653" fill="none" stroke="#eea027" stroke-width="1.3" stroke-linejoin="round"/>
<circle cx="251.3" cy="636.8" r="2.2" fill="#eea027"/>
<circle cx="273" cy="634.5" r="2.2" fill="#eea027"/>
<circle cx="313" cy="643" r="2.2" fill="#eea027"/>
<circle cx="333.8" cy="653" r="2.2" fill="#eea027"/>
<polyline points="251.3,626.8 273,623 313,631.8 333.8,653 339.5,653" fill="none" stroke="#b51235" stroke-width="1.3" stroke-linejoin="round"/>
<circle cx="251.3" cy="626.8" r="2.2" fill="#cc0f30"/>
<circle cx="273" cy="623" r="2.2" fill="#cc0f30"/>
<circle cx="313" cy="631.8" r="2.2" fill="#cc0f30"/>
<circle cx="333.8" cy="653" r="2.2" fill="#cc0f30"/>
<circle cx="339.5" cy="653" r="2.2" fill="#cc0f30"/>
<polyline points="251.3,653 273,653 313,643.3 333.8,627 339.5,619.5" fill="none" stroke="#3a9e3a" stroke-width="1.3" stroke-linejoin="round"/>
<circle cx="251.3" cy="653" r="2.2" fill="#3a9e3a"/>
<circle cx="273" cy="653" r="2.2" fill="#3a9e3a"/>
<circle cx="313" cy="643.3" r="2.2" fill="#3a9e3a"/>
<circle cx="333.8" cy="627" r="2.2" fill="#3a9e3a"/>
<circle cx="339.5" cy="619.5" r="2.2" fill="#3a9e3a"/>
<polyline points="360.5,629.5 375,653.8 388,627.5 395.5,630 423,635.5" fill="none" stroke="#1b4d80" stroke-width="1.3" stroke-linejoin="round"/>
<circle cx="360.5" cy="629.5" r="2.2" fill="#1b4d80"/>
<circle cx="375" cy="653.8" r="2.2" fill="#1b4d80"/>
<circle cx="388" cy="627.5" r="2.2" fill="#1b4d80"/>
<circle cx="395.5" cy="630" r="2.2" fill="#1b4d80"/>
<circle cx="423" cy="635.5" r="2.2" fill="#1b4d80"/>
<polyline points="360.5,621.3 375,633.8 388,623 395.5,630 423,631.3" fill="none" stroke="#eea027" stroke-width="1.3" stroke-linejoin="round"/>
<circle cx="360.5" cy="621.3" r="2.2" fill="#eea027"/>
<circle cx="375" cy="633.8" r="2.2" fill="#eea027"/>
<circle cx="388" cy="623" r="2.2" fill="#eea027"/>
<circle cx="395.5" cy="630" r="2.2" fill="#eea027"/>
<circle cx="423" cy="631.3" r="2.2" fill="#eea027"/>
<polyline points="360.5,618 375,645.8 388,628.8 395.5,629.5 423,638" fill="none" stroke="#b51235" stroke-width="1.3" stroke-linejoin="round"/>
<circle cx="360.5" cy="618" r="2.2" fill="#cc0f30"/>
<circle cx="375" cy="645.8" r="2.2" fill="#cc0f30"/>
<circle cx="388" cy="628.8" r="2.2" fill="#cc0f30"/>
<circle cx="395.5" cy="629.5" r="2.2" fill="#cc0f30"/>
<circle cx="423" cy="638" r="2.2" fill="#cc0f30"/>
<polyline points="360.5,653.8 375,644.5 388,625.5 395.5,620.8 423,629.3" fill="none" stroke="#3a9e3a" stroke-width="1.3" stroke-linejoin="round"/>
<circle cx="360.5" cy="653.8" r="2.2" fill="#3a9e3a"/>
<circle cx="375" cy="644.5" r="2.2" fill="#3a9e3a"/>
<circle cx="388" cy="625.5" r="2.2" fill="#3a9e3a"/>
<circle cx="395.5" cy="620.8" r="2.2" fill="#3a9e3a"/>
<circle cx="423" cy="629.3" r="2.2" fill="#3a9e3a"/>
<polyline points="447.3,631.9 450.8,653.7 487.7,653.7" fill="none" stroke="#1b4d80" stroke-width="1.3" stroke-linejoin="round"/>
<circle cx="447.3" cy="631.9" r="2.2" fill="#1b4d80"/>
<circle cx="450.8" cy="653.7" r="2.2" fill="#1b4d80"/>
<circle cx="487.7" cy="653.7" r="2.2" fill="#1b4d80"/>
<polyline points="447.3,627.7 450.8,632.5 487.7,653" fill="none" stroke="#eea027" stroke-width="1.3" stroke-linejoin="round"/>
<circle cx="447.3" cy="627.7" r="2.2" fill="#eea027"/>
<circle cx="450.8" cy="632.5" r="2.2" fill="#eea027"/>
<circle cx="487.7" cy="653" r="2.2" fill="#eea027"/>
<polyline points="447.3,625.4 450.8,630 487.7,651.7 493.1,653.7 510.8,644" fill="none" stroke="#b51235" stroke-width="1.3" stroke-linejoin="round"/>
<circle cx="447.3" cy="625.4" r="2.2" fill="#cc0f30"/>
<circle cx="450.8" cy="630" r="2.2" fill="#cc0f30"/>
<circle cx="487.7" cy="651.7" r="2.2" fill="#cc0f30"/>
<circle cx="493.1" cy="653.7" r="2.2" fill="#cc0f30"/>
<circle cx="510.8" cy="644" r="2.2" fill="#cc0f30"/>
<polyline points="447.3,653.7 450.8,653.7 487.7,630.6 493.1,629.2 510.8,623.8" fill="none" stroke="#3a9e3a" stroke-width="1.3" stroke-linejoin="round"/>
<circle cx="447.3" cy="653.7" r="2.2" fill="#3a9e3a"/>
<circle cx="450.8" cy="653.7" r="2.2" fill="#3a9e3a"/>
<circle cx="487.7" cy="630.6" r="2.2" fill="#3a9e3a"/>
<circle cx="493.1" cy="629.2" r="2.2" fill="#3a9e3a"/>
<circle cx="510.8" cy="623.8" r="2.2" fill="#3a9e3a"/>
<line x1="77.5" y1="674.4" x2="77.5" y2="764" stroke="#111" stroke-width="1.5" />
<line x1="74.2" y1="677.4" x2="77.5" y2="677.4" stroke="#111" stroke-width="1.1" />
<text x="70.2" y="680.8" font-size="9.7" text-anchor="end" fill="#1a1a1a" stroke="#1a1a1a" stroke-width="0.15">3</text>
<line x1="74.2" y1="693" x2="77.5" y2="693" stroke="#111" stroke-width="1.1" />
<text x="70.2" y="696.4" font-size="9.7" text-anchor="end" fill="#1a1a1a" stroke="#1a1a1a" stroke-width="0.15">2</text>
<line x1="74.2" y1="708.5" x2="77.5" y2="708.5" stroke="#111" stroke-width="1.1" />
<text x="70.2" y="711.9" font-size="9.7" text-anchor="end" fill="#1a1a1a" stroke="#1a1a1a" stroke-width="0.15">1</text>
<line x1="74.2" y1="724.2" x2="77.5" y2="724.2" stroke="#111" stroke-width="1.1" />
<text x="70.2" y="727.6" font-size="9.7" text-anchor="end" fill="#1a1a1a" stroke="#1a1a1a" stroke-width="0.15">0</text>
<line x1="74.2" y1="739.9" x2="77.5" y2="739.9" stroke="#111" stroke-width="1.1" />
<text x="70.2" y="743.3" font-size="9.7" text-anchor="end" fill="#1a1a1a" stroke="#1a1a1a" stroke-width="0.15">−1</text>
<line x1="74.2" y1="755.2" x2="77.5" y2="755.2" stroke="#111" stroke-width="1.1" />
<text x="70.2" y="758.6" font-size="9.7" text-anchor="end" fill="#1a1a1a" stroke="#1a1a1a" stroke-width="0.15">≤−2</text>
<line x1="76.8" y1="764" x2="216" y2="764" stroke="#111" stroke-width="1.5" />
<line x1="79.2" y1="764" x2="79.2" y2="767.4" stroke="#111" stroke-width="1.1" />
<line x1="101.3" y1="764" x2="101.3" y2="767.4" stroke="#111" stroke-width="1.1" />
<line x1="123.4" y1="764" x2="123.4" y2="767.4" stroke="#111" stroke-width="1.1" />
<line x1="145.5" y1="764" x2="145.5" y2="767.4" stroke="#111" stroke-width="1.1" />
<line x1="167.6" y1="764" x2="167.6" y2="767.4" stroke="#111" stroke-width="1.1" />
<line x1="189.7" y1="764" x2="189.7" y2="767.4" stroke="#111" stroke-width="1.1" />
<line x1="211.8" y1="764" x2="211.8" y2="767.4" stroke="#111" stroke-width="1.1" />
<line x1="230.1" y1="674.4" x2="230.1" y2="764" stroke="#111" stroke-width="1.5" />
<line x1="226.8" y1="678.2" x2="230.1" y2="678.2" stroke="#111" stroke-width="1.1" />
<line x1="226.8" y1="693.8" x2="230.1" y2="693.8" stroke="#111" stroke-width="1.1" />
<line x1="226.8" y1="709.3" x2="230.1" y2="709.3" stroke="#111" stroke-width="1.1" />
<line x1="226.8" y1="725" x2="230.1" y2="725" stroke="#111" stroke-width="1.1" />
<line x1="226.8" y1="740.7" x2="230.1" y2="740.7" stroke="#111" stroke-width="1.1" />
<line x1="226.8" y1="756" x2="230.1" y2="756" stroke="#111" stroke-width="1.1" />
<line x1="229.4" y1="764" x2="344.5" y2="764" stroke="#111" stroke-width="1.5" />
<line x1="231.5" y1="764" x2="231.5" y2="767.4" stroke="#111" stroke-width="1.1" />
<line x1="253.4" y1="764" x2="253.4" y2="767.4" stroke="#111" stroke-width="1.1" />
<line x1="275.3" y1="764" x2="275.3" y2="767.4" stroke="#111" stroke-width="1.1" />
<line x1="297.2" y1="764" x2="297.2" y2="767.4" stroke="#111" stroke-width="1.1" />
<line x1="319.1" y1="764" x2="319.1" y2="767.4" stroke="#111" stroke-width="1.1" />
<line x1="341" y1="764" x2="341" y2="767.4" stroke="#111" stroke-width="1.1" />
<line x1="359.8" y1="674.4" x2="359.8" y2="764" stroke="#111" stroke-width="1.5" />
<line x1="356.5" y1="678.3" x2="359.8" y2="678.3" stroke="#111" stroke-width="1.1" />
<line x1="356.5" y1="693.9" x2="359.8" y2="693.9" stroke="#111" stroke-width="1.1" />
<line x1="356.5" y1="709.4" x2="359.8" y2="709.4" stroke="#111" stroke-width="1.1" />
<line x1="356.5" y1="725.1" x2="359.8" y2="725.1" stroke="#111" stroke-width="1.1" />
<line x1="356.5" y1="740.8" x2="359.8" y2="740.8" stroke="#111" stroke-width="1.1" />
<line x1="356.5" y1="756.1" x2="359.8" y2="756.1" stroke="#111" stroke-width="1.1" />
<line x1="359.1" y1="764" x2="428.4" y2="764" stroke="#111" stroke-width="1.5" />
<line x1="362.4" y1="764" x2="362.4" y2="767.4" stroke="#111" stroke-width="1.1" />
<line x1="383.33" y1="764" x2="383.33" y2="767.4" stroke="#111" stroke-width="1.1" />
<line x1="404.26" y1="764" x2="404.26" y2="767.4" stroke="#111" stroke-width="1.1" />
<line x1="425.19" y1="764" x2="425.19" y2="767.4" stroke="#111" stroke-width="1.1" />
<line x1="446" y1="674.4" x2="446" y2="764" stroke="#111" stroke-width="1.5" />
<line x1="442.7" y1="678.2" x2="446" y2="678.2" stroke="#111" stroke-width="1.1" />
<line x1="442.7" y1="693.8" x2="446" y2="693.8" stroke="#111" stroke-width="1.1" />
<line x1="442.7" y1="709.3" x2="446" y2="709.3" stroke="#111" stroke-width="1.1" />
<line x1="442.7" y1="725" x2="446" y2="725" stroke="#111" stroke-width="1.1" />
<line x1="442.7" y1="740.7" x2="446" y2="740.7" stroke="#111" stroke-width="1.1" />
<line x1="442.7" y1="756" x2="446" y2="756" stroke="#111" stroke-width="1.1" />
<line x1="445.3" y1="764" x2="513.5" y2="764" stroke="#111" stroke-width="1.5" />
<line x1="448" y1="764" x2="448" y2="767.4" stroke="#111" stroke-width="1.1" />
<line x1="468.7" y1="764" x2="468.7" y2="767.4" stroke="#111" stroke-width="1.1" />
<line x1="489.4" y1="764" x2="489.4" y2="767.4" stroke="#111" stroke-width="1.1" />
<line x1="510.1" y1="764" x2="510.1" y2="767.4" stroke="#111" stroke-width="1.1" />
<polyline points="104.5,716.3 145.5,752.5 186.3,755" fill="none" stroke="#1b4d80" stroke-width="1.3" stroke-linejoin="round"/>
<circle cx="104.5" cy="716.3" r="2.2" fill="#1b4d80"/>
<circle cx="145.5" cy="752.5" r="2.2" fill="#1b4d80"/>
<circle cx="186.3" cy="755" r="2.2" fill="#1b4d80"/>
<polyline points="104.5,711.3 145.5,750.5 186.3,755" fill="none" stroke="#eea027" stroke-width="1.3" stroke-linejoin="round"/>
<circle cx="104.5" cy="711.3" r="2.2" fill="#eea027"/>
<circle cx="145.5" cy="750.5" r="2.2" fill="#eea027"/>
<circle cx="186.3" cy="755" r="2.2" fill="#eea027"/>
<polyline points="104.5,691.3 145.5,728.8 186.3,755 208.7,755" fill="none" stroke="#b51235" stroke-width="1.3" stroke-linejoin="round"/>
<circle cx="104.5" cy="691.3" r="2.2" fill="#cc0f30"/>
<circle cx="145.5" cy="728.8" r="2.2" fill="#cc0f30"/>
<circle cx="186.3" cy="755" r="2.2" fill="#cc0f30"/>
<circle cx="208.7" cy="755" r="2.2" fill="#cc0f30"/>
<polyline points="104.5,755 145.5,689.3 186.3,706.8 208.7,690" fill="none" stroke="#3a9e3a" stroke-width="1.3" stroke-linejoin="round"/>
<circle cx="104.5" cy="755" r="2.2" fill="#3a9e3a"/>
<circle cx="145.5" cy="689.3" r="2.2" fill="#3a9e3a"/>
<circle cx="186.3" cy="706.8" r="2.2" fill="#3a9e3a"/>
<circle cx="208.7" cy="690" r="2.2" fill="#3a9e3a"/>
<polyline points="251.3,752.5 273,755.8 313,755.8" fill="none" stroke="#1b4d80" stroke-width="1.3" stroke-linejoin="round"/>
<circle cx="251.3" cy="752.5" r="2.2" fill="#1b4d80"/>
<circle cx="273" cy="755.8" r="2.2" fill="#1b4d80"/>
<circle cx="313" cy="755.8" r="2.2" fill="#1b4d80"/>
<polyline points="251.3,748 273,746.5 313,755.8 333.8,755.8" fill="none" stroke="#eea027" stroke-width="1.3" stroke-linejoin="round"/>
<circle cx="251.3" cy="748" r="2.2" fill="#eea027"/>
<circle cx="273" cy="746.5" r="2.2" fill="#eea027"/>
<circle cx="313" cy="755.8" r="2.2" fill="#eea027"/>
<circle cx="333.8" cy="755.8" r="2.2" fill="#eea027"/>
<polyline points="251.3,719.5 273,710 313,730.5 333.8,755.8 339.5,755.8" fill="none" stroke="#b51235" stroke-width="1.3" stroke-linejoin="round"/>
<circle cx="251.3" cy="719.5" r="2.2" fill="#cc0f30"/>
<circle cx="273" cy="710" r="2.2" fill="#cc0f30"/>
<circle cx="313" cy="730.5" r="2.2" fill="#cc0f30"/>
<circle cx="333.8" cy="755.8" r="2.2" fill="#cc0f30"/>
<circle cx="339.5" cy="755.8" r="2.2" fill="#cc0f30"/>
<polyline points="251.3,755.8 273,749.5 313,738.8 333.8,705 339.5,711.3" fill="none" stroke="#3a9e3a" stroke-width="1.3" stroke-linejoin="round"/>
<circle cx="251.3" cy="755.8" r="2.2" fill="#3a9e3a"/>
<circle cx="273" cy="749.5" r="2.2" fill="#3a9e3a"/>
<circle cx="313" cy="738.8" r="2.2" fill="#3a9e3a"/>
<circle cx="333.8" cy="705" r="2.2" fill="#3a9e3a"/>
<circle cx="339.5" cy="711.3" r="2.2" fill="#3a9e3a"/>
<polyline points="362,741.2 376.8,755.8 389.2,734.2 397,743.2 424.5,740.8" fill="none" stroke="#1b4d80" stroke-width="1.3" stroke-linejoin="round"/>
<circle cx="362" cy="741.2" r="2.2" fill="#1b4d80"/>
<circle cx="376.8" cy="755.8" r="2.2" fill="#1b4d80"/>
<circle cx="389.2" cy="734.2" r="2.2" fill="#1b4d80"/>
<circle cx="397" cy="743.2" r="2.2" fill="#1b4d80"/>
<circle cx="424.5" cy="740.8" r="2.2" fill="#1b4d80"/>
<polyline points="362,718.2 376.8,741.8 389.2,722.5 397,737.5 424.5,736.2" fill="none" stroke="#eea027" stroke-width="1.3" stroke-linejoin="round"/>
<circle cx="362" cy="718.2" r="2.2" fill="#eea027"/>
<circle cx="376.8" cy="741.8" r="2.2" fill="#eea027"/>
<circle cx="389.2" cy="722.5" r="2.2" fill="#eea027"/>
<circle cx="397" cy="737.5" r="2.2" fill="#eea027"/>
<circle cx="424.5" cy="736.2" r="2.2" fill="#eea027"/>
<polyline points="362,695 376.8,742.5 389.5,718.8 397,715 424.5,735" fill="none" stroke="#b51235" stroke-width="1.3" stroke-linejoin="round"/>
<circle cx="362" cy="695" r="2.2" fill="#cc0f30"/>
<circle cx="376.8" cy="742.5" r="2.2" fill="#cc0f30"/>
<circle cx="389.5" cy="718.8" r="2.2" fill="#cc0f30"/>
<circle cx="397" cy="715" r="2.2" fill="#cc0f30"/>
<circle cx="424.5" cy="735" r="2.2" fill="#cc0f30"/>
<polyline points="362,755.8 376.8,730.5 389.2,715.8 397,701.8 424.5,717" fill="none" stroke="#3a9e3a" stroke-width="1.3" stroke-linejoin="round"/>
<circle cx="362" cy="755.8" r="2.2" fill="#3a9e3a"/>
<circle cx="376.8" cy="730.5" r="2.2" fill="#3a9e3a"/>
<circle cx="389.2" cy="715.8" r="2.2" fill="#3a9e3a"/>
<circle cx="397" cy="701.8" r="2.2" fill="#3a9e3a"/>
<circle cx="424.5" cy="717" r="2.2" fill="#3a9e3a"/>
<polyline points="447.3,755.6 487.7,755.6" fill="none" stroke="#eea027" stroke-width="1.3" stroke-linejoin="round"/>
<circle cx="447.3" cy="755.6" r="2.2" fill="#eea027"/>
<circle cx="487.7" cy="755.6" r="2.2" fill="#eea027"/>
<polyline points="447.3,731.3 450.8,739.6 487.7,755.6 493.1,755.6 510.8,755.6" fill="none" stroke="#b51235" stroke-width="1.3" stroke-linejoin="round"/>
<circle cx="447.3" cy="731.3" r="2.2" fill="#cc0f30"/>
<circle cx="450.8" cy="739.6" r="2.2" fill="#cc0f30"/>
<circle cx="487.7" cy="755.6" r="2.2" fill="#cc0f30"/>
<circle cx="493.1" cy="755.6" r="2.2" fill="#cc0f30"/>
<circle cx="510.8" cy="755.6" r="2.2" fill="#cc0f30"/>
<polyline points="447.3,753.8 450.8,755.6 487.7,705.8 493.1,716.9 510.8,708.8" fill="none" stroke="#3a9e3a" stroke-width="1.3" stroke-linejoin="round"/>
<circle cx="447.3" cy="753.8" r="2.2" fill="#3a9e3a"/>
<circle cx="450.8" cy="755.6" r="2.2" fill="#3a9e3a"/>
<circle cx="487.7" cy="705.8" r="2.2" fill="#3a9e3a"/>
<circle cx="493.1" cy="716.9" r="2.2" fill="#3a9e3a"/>
<circle cx="510.8" cy="708.8" r="2.2" fill="#3a9e3a"/>
<line x1="78.3" y1="793.8" x2="78.3" y2="800.8" stroke="#111" stroke-width="1.5" />
<line x1="77.6" y1="800.3" x2="217.5" y2="800.3" stroke="#111" stroke-width="1.5" />
<line x1="80.1" y1="800.3" x2="80.1" y2="803.7" stroke="#111" stroke-width="1.1" />
<text x="80.1" y="816.1" font-size="9.9" text-anchor="middle" fill="#1a1a1a" stroke="#1a1a1a" stroke-width="0.15">0</text>
<line x1="102.2" y1="800.3" x2="102.2" y2="803.7" stroke="#111" stroke-width="1.1" />
<text x="102.2" y="816.1" font-size="9.9" text-anchor="middle" fill="#1a1a1a" stroke="#1a1a1a" stroke-width="0.15">1</text>
<line x1="124.3" y1="800.3" x2="124.3" y2="803.7" stroke="#111" stroke-width="1.1" />
<text x="124.3" y="816.1" font-size="9.9" text-anchor="middle" fill="#1a1a1a" stroke="#1a1a1a" stroke-width="0.15">2</text>
<line x1="146.4" y1="800.3" x2="146.4" y2="803.7" stroke="#111" stroke-width="1.1" />
<text x="146.4" y="816.1" font-size="9.9" text-anchor="middle" fill="#1a1a1a" stroke="#1a1a1a" stroke-width="0.15">3</text>
<line x1="168.5" y1="800.3" x2="168.5" y2="803.7" stroke="#111" stroke-width="1.1" />
<text x="168.5" y="816.1" font-size="9.9" text-anchor="middle" fill="#1a1a1a" stroke="#1a1a1a" stroke-width="0.15">4</text>
<line x1="190.6" y1="800.3" x2="190.6" y2="803.7" stroke="#111" stroke-width="1.1" />
<text x="190.6" y="816.1" font-size="9.9" text-anchor="middle" fill="#1a1a1a" stroke="#1a1a1a" stroke-width="0.15">5</text>
<line x1="212.7" y1="800.3" x2="212.7" y2="803.7" stroke="#111" stroke-width="1.1" />
<text x="212.7" y="816.1" font-size="9.9" text-anchor="middle" fill="#1a1a1a" stroke="#1a1a1a" stroke-width="0.15">6</text>
<line x1="231.6" y1="793.8" x2="231.6" y2="800.8" stroke="#111" stroke-width="1.5" />
<line x1="230.9" y1="800.3" x2="344.5" y2="800.3" stroke="#111" stroke-width="1.5" />
<line x1="233" y1="800.3" x2="233" y2="803.7" stroke="#111" stroke-width="1.1" />
<text x="233" y="816.1" font-size="9.9" text-anchor="middle" fill="#1a1a1a" stroke="#1a1a1a" stroke-width="0.15">0</text>
<line x1="254.8" y1="800.3" x2="254.8" y2="803.7" stroke="#111" stroke-width="1.1" />
<text x="254.8" y="816.1" font-size="9.9" text-anchor="middle" fill="#1a1a1a" stroke="#1a1a1a" stroke-width="0.15">1</text>
<line x1="276.6" y1="800.3" x2="276.6" y2="803.7" stroke="#111" stroke-width="1.1" />
<text x="276.6" y="816.1" font-size="9.9" text-anchor="middle" fill="#1a1a1a" stroke="#1a1a1a" stroke-width="0.15">2</text>
<line x1="298.4" y1="800.3" x2="298.4" y2="803.7" stroke="#111" stroke-width="1.1" />
<text x="298.4" y="816.1" font-size="9.9" text-anchor="middle" fill="#1a1a1a" stroke="#1a1a1a" stroke-width="0.15">3</text>
<line x1="320.2" y1="800.3" x2="320.2" y2="803.7" stroke="#111" stroke-width="1.1" />
<text x="320.2" y="816.1" font-size="9.9" text-anchor="middle" fill="#1a1a1a" stroke="#1a1a1a" stroke-width="0.15">4</text>
<line x1="342" y1="800.3" x2="342" y2="803.7" stroke="#111" stroke-width="1.1" />
<text x="342" y="816.1" font-size="9.9" text-anchor="middle" fill="#1a1a1a" stroke="#1a1a1a" stroke-width="0.15">5</text>
<line x1="362.2" y1="793.8" x2="362.2" y2="800.8" stroke="#111" stroke-width="1.5" />
<line x1="361.5" y1="800.3" x2="428" y2="800.3" stroke="#111" stroke-width="1.5" />
<line x1="363.7" y1="800.3" x2="363.7" y2="803.7" stroke="#111" stroke-width="1.1" />
<text x="363.7" y="816.1" font-size="9.9" text-anchor="middle" fill="#1a1a1a" stroke="#1a1a1a" stroke-width="0.15">0</text>
<line x1="384.4" y1="800.3" x2="384.4" y2="803.7" stroke="#111" stroke-width="1.1" />
<text x="384.4" y="816.1" font-size="9.9" text-anchor="middle" fill="#1a1a1a" stroke="#1a1a1a" stroke-width="0.15">1</text>
<line x1="405.1" y1="800.3" x2="405.1" y2="803.7" stroke="#111" stroke-width="1.1" />
<text x="405.1" y="816.1" font-size="9.9" text-anchor="middle" fill="#1a1a1a" stroke="#1a1a1a" stroke-width="0.15">2</text>
<line x1="425.8" y1="800.3" x2="425.8" y2="803.7" stroke="#111" stroke-width="1.1" />
<text x="425.8" y="816.1" font-size="9.9" text-anchor="middle" fill="#1a1a1a" stroke="#1a1a1a" stroke-width="0.15">3</text>
<line x1="447.4" y1="793.8" x2="447.4" y2="800.8" stroke="#111" stroke-width="1.5" />
<line x1="446.7" y1="800.3" x2="513.5" y2="800.3" stroke="#111" stroke-width="1.5" />
<line x1="448.7" y1="800.3" x2="448.7" y2="803.7" stroke="#111" stroke-width="1.1" />
<text x="448.7" y="816.1" font-size="9.9" text-anchor="middle" fill="#1a1a1a" stroke="#1a1a1a" stroke-width="0.15">0</text>
<line x1="469.17" y1="800.3" x2="469.17" y2="803.7" stroke="#111" stroke-width="1.1" />
<text x="469.17" y="816.1" font-size="9.9" text-anchor="middle" fill="#1a1a1a" stroke="#1a1a1a" stroke-width="0.15">1</text>
<line x1="489.64" y1="800.3" x2="489.64" y2="803.7" stroke="#111" stroke-width="1.1" />
<text x="489.64" y="816.1" font-size="9.9" text-anchor="middle" fill="#1a1a1a" stroke="#1a1a1a" stroke-width="0.15">2</text>
<line x1="510.11" y1="800.3" x2="510.11" y2="803.7" stroke="#111" stroke-width="1.1" />
<text x="510.11" y="816.1" font-size="9.9" text-anchor="middle" fill="#1a1a1a" stroke="#1a1a1a" stroke-width="0.15">3</text>
<path d="M103.8,787.2 L103.8,779.1 A8.1,8.1 0 1 1 102.12,779.28 Z" fill="#cc0f30"/>
<path d="M103.8,787.2 L102.12,779.28 A8.1,8.1 0 0 1 103.8,779.1 Z" fill="#f4a6a6"/>
<circle cx="148" cy="787.5" r="8.1" fill="#35a835"/>
<line x1="148" y1="787.5" x2="148" y2="779.4" stroke="#8fd08f" stroke-width="0.6" />
<circle cx="187.6" cy="787.5" r="8.1" fill="#35a835"/>
<line x1="187.6" y1="787.5" x2="187.6" y2="779.4" stroke="#8fd08f" stroke-width="0.6" />
<circle cx="208.8" cy="787.5" r="8.1" fill="#35a835"/>
<line x1="208.8" y1="787.5" x2="208.8" y2="779.4" stroke="#8fd08f" stroke-width="0.6" />
<path d="M253.8,787.5 L253.8,779.4 A8.1,8.1 0 1 1 252.67,779.48 Z" fill="#cc0f30"/>
<path d="M253.8,787.5 L252.67,779.48 A8.1,8.1 0 0 1 253.8,779.4 Z" fill="#f4a6a6"/>
<path d="M272.2,787.5 L272.2,779.4 A8.1,8.1 0 1 1 271.07,779.48 Z" fill="#cc0f30"/>
<path d="M272.2,787.5 L271.07,779.48 A8.1,8.1 0 0 1 272.2,779.4 Z" fill="#f4a6a6"/>
<path d="M304.5,787.5 L304.5,779.4 A8.1,8.1 0 1 1 296.4,787.5 Z" fill="#cc0f30"/>
<path d="M304.5,787.5 L296.4,787.5 A8.1,8.1 0 0 1 304.5,779.4 Z" fill="#35a835"/>
<circle cx="322.5" cy="787.5" r="8.1" fill="#35a835"/>
<line x1="322.5" y1="787.5" x2="322.5" y2="779.4" stroke="#8fd08f" stroke-width="0.6" />
<circle cx="340.6" cy="787.5" r="8.1" fill="#35a835"/>
<line x1="340.6" y1="787.5" x2="340.6" y2="779.4" stroke="#8fd08f" stroke-width="0.6" />
<path d="M366.8,787.3 L366.8,779.2 A8.1,8.1 0 1 1 365.67,779.28 Z" fill="#cc0f30"/>
<path d="M366.8,787.3 L365.67,779.28 A8.1,8.1 0 0 1 366.8,779.2 Z" fill="#c8c890"/>
<path d="M383.5,787.5 L383.5,779.4 A8.1,8.1 0 0 1 390.51,783.45 Z" fill="#cc0f30"/>
<path d="M383.5,787.5 L390.51,783.45 A8.1,8.1 0 0 1 391.32,789.6 Z" fill="#eea027"/>
<path d="M383.5,787.5 L391.32,789.6 A8.1,8.1 0 1 1 383.5,779.4 Z" fill="#35a835"/>
<path d="M400.8,787.5 L400.8,779.4 A8.1,8.1 0 0 1 407,782.29 Z" fill="#cc0f30"/>
<path d="M400.8,787.5 L407,782.29 A8.1,8.1 0 1 1 400.8,779.4 Z" fill="#35a835"/>
<circle cx="426.5" cy="787.5" r="8.1" fill="#35a835"/>
<line x1="426.5" y1="787.5" x2="426.5" y2="779.4" stroke="#8fd08f" stroke-width="0.6" />
<path d="M454,787.5 L454,779.4 A8.1,8.1 0 1 1 449.95,780.49 Z" fill="#cc0f30"/>
<path d="M454,787.5 L449.95,780.49 A8.1,8.1 0 0 1 454,779.4 Z" fill="#7cc36a"/>
<circle cx="475.8" cy="787.5" r="8.1" fill="#35a835"/>
<line x1="475.8" y1="787.5" x2="475.8" y2="779.4" stroke="#8fd08f" stroke-width="0.6" />
<circle cx="494" cy="787.5" r="8.1" fill="#35a835"/>
<line x1="494" y1="787.5" x2="494" y2="779.4" stroke="#8fd08f" stroke-width="0.6" />
<circle cx="511.3" cy="787.5" r="8.1" fill="#35a835"/>
<line x1="511.3" y1="787.5" x2="511.3" y2="779.4" stroke="#8fd08f" stroke-width="0.6" />
<text x="277.8" y="833.6" font-size="10.6" textLength="19.4" lengthAdjust="spacingAndGlyphs" fill="#1a1a1a" stroke="#1a1a1a" stroke-width="0.5">Years</text>
</svg>
</body></html>
